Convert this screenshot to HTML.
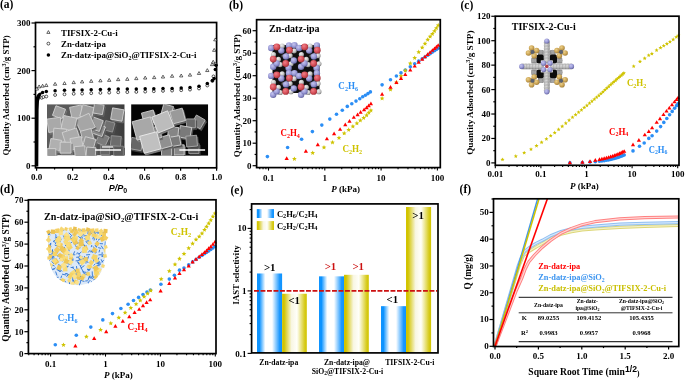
<!DOCTYPE html><html><head><meta charset="utf-8"><style>html,body{margin:0;padding:0;background:#fff;overflow:hidden}svg{display:block;filter:blur(0.4px)}</style></head><body>
<svg width="685" height="380" viewBox="0 0 685 380" style="font-family:'Liberation Serif',serif;font-weight:bold">
<defs>
<linearGradient id="gb" x1="0" x2="1" y1="0" y2="0">
<stop offset="0" stop-color="#0d93ff"/><stop offset="0.1" stop-color="#0d93ff"/><stop offset="0.33" stop-color="#ffffff"/><stop offset="0.6" stop-color="#ffffff"/><stop offset="0.9" stop-color="#1c98ff"/><stop offset="1" stop-color="#0d93ff"/>
</linearGradient>
<linearGradient id="gy" x1="0" x2="1" y1="0" y2="0">
<stop offset="0" stop-color="#d2c400"/><stop offset="0.08" stop-color="#d2c400"/><stop offset="0.38" stop-color="#f8f6e2"/><stop offset="0.6" stop-color="#fffffa"/><stop offset="0.92" stop-color="#d6ca18"/><stop offset="1" stop-color="#d2c400"/>
</linearGradient>
</defs>
<text x="0.00" y="8.10" font-size="11.5" text-anchor="start" fill="#000"  style="">(a)</text>
<text x="229.00" y="8.70" font-size="11.5" text-anchor="start" fill="#000"  style="">(b)</text>
<text x="460.50" y="8.70" font-size="11.5" text-anchor="start" fill="#000"  style="">(c)</text>
<text x="0.00" y="193.19" font-size="11.5" text-anchor="start" fill="#000"  style="">(d)</text>
<text x="230.50" y="193.69" font-size="11.5" text-anchor="start" fill="#000"  style="">(e)</text>
<text x="459.60" y="193.49" font-size="11.5" text-anchor="start" fill="#000"  style="">(f)</text>
<line x1="31.50" y1="165.80" x2="35.50" y2="165.80" stroke="#000" stroke-width="1.2" />
<text x="30.40" y="168.77" font-size="9" text-anchor="end" fill="#000"  style="">0</text>
<line x1="33.50" y1="142.00" x2="35.50" y2="142.00" stroke="#000" stroke-width="1.2" />
<line x1="31.50" y1="118.20" x2="35.50" y2="118.20" stroke="#000" stroke-width="1.2" />
<text x="30.40" y="121.17" font-size="9" text-anchor="end" fill="#000"  style="">100</text>
<line x1="33.50" y1="94.40" x2="35.50" y2="94.40" stroke="#000" stroke-width="1.2" />
<line x1="31.50" y1="70.60" x2="35.50" y2="70.60" stroke="#000" stroke-width="1.2" />
<text x="30.40" y="73.57" font-size="9" text-anchor="end" fill="#000"  style="">200</text>
<line x1="33.50" y1="46.80" x2="35.50" y2="46.80" stroke="#000" stroke-width="1.2" />
<line x1="31.50" y1="23.00" x2="35.50" y2="23.00" stroke="#000" stroke-width="1.2" />
<text x="30.40" y="25.97" font-size="9" text-anchor="end" fill="#000"  style="">300</text>
<line x1="36.60" y1="167.80" x2="36.60" y2="170.80" stroke="#000" stroke-width="1.2" />
<text x="36.60" y="180.27" font-size="9" text-anchor="middle" fill="#000"  style="">0.0</text>
<line x1="54.60" y1="167.80" x2="54.60" y2="169.40" stroke="#000" stroke-width="1.2" />
<line x1="72.60" y1="167.80" x2="72.60" y2="170.80" stroke="#000" stroke-width="1.2" />
<text x="72.60" y="180.27" font-size="9" text-anchor="middle" fill="#000"  style="">0.2</text>
<line x1="90.60" y1="167.80" x2="90.60" y2="169.40" stroke="#000" stroke-width="1.2" />
<line x1="108.60" y1="167.80" x2="108.60" y2="170.80" stroke="#000" stroke-width="1.2" />
<text x="108.60" y="180.27" font-size="9" text-anchor="middle" fill="#000"  style="">0.4</text>
<line x1="126.60" y1="167.80" x2="126.60" y2="169.40" stroke="#000" stroke-width="1.2" />
<line x1="144.60" y1="167.80" x2="144.60" y2="170.80" stroke="#000" stroke-width="1.2" />
<text x="144.60" y="180.27" font-size="9" text-anchor="middle" fill="#000"  style="">0.6</text>
<line x1="162.60" y1="167.80" x2="162.60" y2="169.40" stroke="#000" stroke-width="1.2" />
<line x1="180.60" y1="167.80" x2="180.60" y2="170.80" stroke="#000" stroke-width="1.2" />
<text x="180.60" y="180.27" font-size="9" text-anchor="middle" fill="#000"  style="">0.8</text>
<line x1="198.60" y1="167.80" x2="198.60" y2="169.40" stroke="#000" stroke-width="1.2" />
<line x1="216.60" y1="167.80" x2="216.60" y2="170.80" stroke="#000" stroke-width="1.2" />
<text x="216.60" y="180.27" font-size="9" text-anchor="middle" fill="#000"  style="">1.0</text>
<text transform="translate(8.70,95.45) rotate(-90)" x="0" y="0" font-size="8.8" text-anchor="middle" fill="#000" textLength="120.2" lengthAdjust="spacingAndGlyphs">Quantity Adsorbed (cm<tspan font-size="6" dy="-3">3</tspan><tspan dy="3">/g STP)</tspan></text>
<text x="108.8" y="191" font-size="9" style="font-family:'Liberation Sans',sans-serif;font-style:italic;font-weight:bold">P/P<tspan font-size="7" dy="2.2" font-style="normal">0</tspan></text>
<rect x="35.50" y="22.50" width="181.10" height="145.30" fill="none" stroke="#000" stroke-width="1.7"/>
<clipPath id="sem1"><rect x="47" y="104.2" width="77.7" height="51.2"/></clipPath>
<clipPath id="sem2"><rect x="131.1" y="104.2" width="77.1" height="51.6"/></clipPath>
<linearGradient id="semg1" x1="0" x2="1" y1="0" y2="0"><stop offset="0" stop-color="#5c5c5c"/><stop offset="0.6" stop-color="#555"/><stop offset="1" stop-color="#3c3c3c"/></linearGradient>
<g clip-path="url(#sem1)">
<rect x="47" y="104.2" width="77.7" height="51.2" fill="url(#semg1)"/>
<polygon points="113.92,109.66 125.29,111.67 123.28,123.04 111.91,121.03" fill="#606060" stroke="#7c7c7c" stroke-width="0.6"/>
<polygon points="112.62,107.86 123.99,109.87 121.98,121.24 110.61,119.23" fill="#9c9c9c" stroke="#d2d2d2" stroke-width="0.9"/>
<polygon points="107.10,122.35 116.25,124.80 113.80,133.95 104.65,131.50" fill="#454545" stroke="#595959" stroke-width="0.6"/>
<polygon points="105.80,120.55 114.95,123.00 112.50,132.15 103.35,129.70" fill="#707070" stroke="#999" stroke-width="0.9"/>
<polygon points="112.57,137.44 122.61,138.32 121.73,148.36 111.69,147.48" fill="#424242" stroke="#565656" stroke-width="0.6"/>
<polygon points="111.27,135.64 121.31,136.52 120.43,146.56 110.39,145.68" fill="#6c6c6c" stroke="#999" stroke-width="0.9"/>
<polygon points="101.33,134.61 110.59,138.93 106.27,148.19 97.01,143.87" fill="#4c4c4c" stroke="#636363" stroke-width="0.6"/>
<polygon points="100.03,132.81 109.29,137.13 104.97,146.39 95.71,142.07" fill="#7c7c7c" stroke="#aaa" stroke-width="0.9"/>
<polygon points="101.70,147.20 110.90,147.20 110.90,156.40 101.70,156.40" fill="#3f3f3f" stroke="#515151" stroke-width="0.6"/>
<polygon points="100.40,145.40 109.60,145.40 109.60,154.60 100.40,154.60" fill="#666" stroke="#888" stroke-width="0.9"/>
<polygon points="114.97,147.97 124.63,147.97 124.63,157.63 114.97,157.63" fill="#373737" stroke="#484848" stroke-width="0.6"/>
<polygon points="113.67,146.17 123.33,146.17 123.33,155.83 113.67,155.83" fill="#5a5a5a" stroke="#888" stroke-width="0.9"/>
<polygon points="97.08,125.23 106.72,128.73 103.22,138.37 93.58,134.87" fill="#555555" stroke="#6e6e6e" stroke-width="0.6"/>
<polygon points="95.78,123.43 105.42,126.93 101.92,136.57 92.28,133.07" fill="#8a8a8a" stroke="#d2d2d2" stroke-width="0.9"/>
<polygon points="93.70,118.50 104.55,122.45 100.60,133.30 89.75,129.35" fill="#5f5f5f" stroke="#7b7b7b" stroke-width="0.6"/>
<polygon points="92.40,116.70 103.25,120.65 99.30,131.50 88.45,127.55" fill="#9a9a9a" stroke="#d2d2d2" stroke-width="0.9"/>
<polygon points="57.25,107.56 66.84,111.05 63.35,120.64 53.76,117.15" fill="#646464" stroke="#818181" stroke-width="0.6"/>
<polygon points="55.95,105.76 65.54,109.25 62.05,118.84 52.46,115.35" fill="#a2a2a2" stroke="#d2d2d2" stroke-width="0.9"/>
<polygon points="70.91,109.18 82.52,106.71 84.99,118.32 73.38,120.79" fill="#686868" stroke="#868686" stroke-width="0.6"/>
<polygon points="69.61,107.38 81.22,104.91 83.69,116.52 72.08,118.99" fill="#a8a8a8" stroke="#d2d2d2" stroke-width="0.9"/>
<polygon points="84.15,106.48 95.62,109.55 92.55,121.02 81.08,117.95" fill="#636363" stroke="#808080" stroke-width="0.6"/>
<polygon points="82.85,104.68 94.32,107.75 91.25,119.22 79.78,116.15" fill="#a0a0a0" stroke="#d2d2d2" stroke-width="0.9"/>
<polygon points="95.88,105.20 105.40,106.88 103.72,116.40 94.20,114.72" fill="#585858" stroke="#717171" stroke-width="0.6"/>
<polygon points="94.58,103.40 104.10,105.08 102.42,114.60 92.90,112.92" fill="#8e8e8e" stroke="#d2d2d2" stroke-width="0.9"/>
<polygon points="76.35,121.51 90.19,115.05 96.65,128.89 82.81,135.35" fill="#666666" stroke="#848484" stroke-width="0.6"/>
<polygon points="75.05,119.71 88.89,113.25 95.35,127.09 81.51,133.55" fill="#a6a6a6" stroke="#d2d2d2" stroke-width="0.9"/>
<polygon points="48.19,120.91 61.54,119.04 63.41,132.39 50.06,134.26" fill="#686868" stroke="#878787" stroke-width="0.6"/>
<polygon points="46.89,119.11 60.24,117.24 62.11,130.59 48.76,132.46" fill="#a9a9a9" stroke="#d2d2d2" stroke-width="0.9"/>
<polygon points="65.15,117.29 78.11,120.05 75.35,133.01 62.39,130.25" fill="#6d6d6d" stroke="#8c8c8c" stroke-width="0.6"/>
<polygon points="63.85,115.49 76.81,118.25 74.05,131.21 61.09,128.45" fill="#b0b0b0" stroke="#d2d2d2" stroke-width="0.9"/>
<polygon points="55.20,129.97 68.03,131.10 66.90,143.93 54.07,142.80" fill="#656565" stroke="#838383" stroke-width="0.6"/>
<polygon points="53.90,128.17 66.73,129.30 65.60,142.13 52.77,141.00" fill="#a4a4a4" stroke="#d2d2d2" stroke-width="0.9"/>
<polygon points="81.70,133.11 92.19,130.30 95.00,140.79 84.51,143.60" fill="#606060" stroke="#7c7c7c" stroke-width="0.6"/>
<polygon points="80.40,131.31 90.89,128.50 93.70,138.99 83.21,141.80" fill="#9c9c9c" stroke="#d2d2d2" stroke-width="0.9"/>
<polygon points="63.43,134.40 77.65,129.78 82.27,144.00 68.05,148.62" fill="#6a6a6a" stroke="#888888" stroke-width="0.6"/>
<polygon points="62.13,132.60 76.35,127.98 80.97,142.20 66.75,146.82" fill="#ababab" stroke="#d2d2d2" stroke-width="0.9"/>
<polygon points="52.20,140.31 62.89,142.20 61.00,152.89 50.31,151.00" fill="#6d6d6d" stroke="#8c8c8c" stroke-width="0.6"/>
<polygon points="50.90,138.51 61.59,140.40 59.70,151.09 49.01,149.20" fill="#b0b0b0" stroke="#d2d2d2" stroke-width="0.9"/>
<polygon points="71.26,140.42 82.63,138.41 84.64,149.78 73.27,151.79" fill="#6f6f6f" stroke="#909090" stroke-width="0.6"/>
<polygon points="69.96,138.62 81.33,136.61 83.34,147.98 71.97,149.99" fill="#b4b4b4" stroke="#d2d2d2" stroke-width="0.9"/>
<polygon points="86.66,138.45 97.15,141.26 94.34,151.75 83.85,148.94" fill="#5e5e5e" stroke="#797979" stroke-width="0.6"/>
<polygon points="85.36,136.65 95.85,139.46 93.04,149.95 82.55,147.14" fill="#989898" stroke="#d2d2d2" stroke-width="0.9"/>
<polygon points="61.47,144.07 72.33,144.07 72.33,154.93 61.47,154.93" fill="#686868" stroke="#868686" stroke-width="0.6"/>
<polygon points="60.17,142.27 71.03,142.27 71.03,153.13 60.17,153.13" fill="#a8a8a8" stroke="#d2d2d2" stroke-width="0.9"/>
<polygon points="48.43,150.43 57.17,150.43 57.17,159.17 48.43,159.17" fill="#5f5f5f" stroke="#7b7b7b" stroke-width="0.6"/>
<polygon points="47.13,148.63 55.87,148.63 55.87,157.37 47.13,157.37" fill="#9a9a9a" stroke="#d2d2d2" stroke-width="0.9"/>
<polygon points="75.57,148.49 86.11,147.57 87.03,158.11 76.49,159.03" fill="#636363" stroke="#808080" stroke-width="0.6"/>
<polygon points="74.27,146.69 84.81,145.77 85.73,156.31 75.19,157.23" fill="#a0a0a0" stroke="#d2d2d2" stroke-width="0.9"/>
<polygon points="88.12,148.82 97.28,149.62 96.48,158.78 87.32,157.98" fill="#555555" stroke="#6e6e6e" stroke-width="0.6"/>
<polygon points="86.82,147.02 95.98,147.82 95.18,156.98 86.02,156.18" fill="#8a8a8a" stroke="#d2d2d2" stroke-width="0.9"/>
<line x1="95.1" y1="150" x2="121" y2="150" stroke="#fff" stroke-width="1.3"/>
<rect x="102" y="146.2" width="11" height="1.5" fill="#e0e0e0"/>
</g>
<g clip-path="url(#sem2)">
<rect x="131.1" y="104.2" width="77.1" height="51.6" fill="#050505"/>
<polygon points="133.05,139.22 144.33,141.20 142.35,152.48 131.07,150.50" fill="#3f3f3f" stroke="#515151" stroke-width="0.6"/>
<polygon points="131.75,137.42 143.03,139.40 141.05,150.68 129.77,148.70" fill="#666" stroke="#aaa" stroke-width="0.9"/>
<polygon points="190.12,145.17 200.28,145.17 200.28,155.33 190.12,155.33" fill="#343434" stroke="#444444" stroke-width="0.6"/>
<polygon points="188.82,143.37 198.98,143.37 198.98,153.53 188.82,153.53" fill="#555" stroke="#999" stroke-width="0.9"/>
<polygon points="197.75,116.79 206.51,121.85 201.45,130.61 192.69,125.55" fill="#4f4f4f" stroke="#666666" stroke-width="0.6"/>
<polygon points="196.45,114.99 205.21,120.05 200.15,128.81 191.39,123.75" fill="#808080" stroke="#bbb" stroke-width="0.9"/>
<polygon points="187.83,120.73 196.67,120.73 196.67,129.57 187.83,129.57" fill="#414141" stroke="#545454" stroke-width="0.6"/>
<polygon points="186.53,118.93 195.37,118.93 195.37,127.77 186.53,127.77" fill="#6a6a6a" stroke="#aaa" stroke-width="0.9"/>
<polygon points="165.01,105.72 174.83,108.36 172.19,118.18 162.37,115.54" fill="#545454" stroke="#6c6c6c" stroke-width="0.6"/>
<polygon points="163.71,103.92 173.53,106.56 170.89,116.38 161.07,113.74" fill="#888" stroke="#d2d2d2" stroke-width="0.9"/>
<polygon points="142.74,114.94 154.51,111.79 157.66,123.56 145.89,126.71" fill="#5e5e5e" stroke="#7a7a7a" stroke-width="0.6"/>
<polygon points="141.44,113.14 153.21,109.99 156.36,121.76 144.59,124.91" fill="#999" stroke="#d2d2d2" stroke-width="0.9"/>
<polygon points="171.09,113.26 183.49,109.94 186.81,122.34 174.41,125.66" fill="#5f5f5f" stroke="#7b7b7b" stroke-width="0.6"/>
<polygon points="169.79,111.46 182.19,108.14 185.51,120.54 173.11,123.86" fill="#9a9a9a" stroke="#d2d2d2" stroke-width="0.9"/>
<polygon points="181.65,127.34 193.06,129.35 191.05,140.76 179.64,138.75" fill="#4b4b4b" stroke="#616161" stroke-width="0.6"/>
<polygon points="180.35,125.54 191.76,127.55 189.75,138.96 178.34,136.95" fill="#7a7a7a" stroke="#d2d2d2" stroke-width="0.9"/>
<polygon points="187.09,137.99 197.86,137.04 198.81,147.81 188.04,148.76" fill="#444444" stroke="#585858" stroke-width="0.6"/>
<polygon points="185.79,136.19 196.56,135.24 197.51,146.01 186.74,146.96" fill="#6e6e6e" stroke="#aaa" stroke-width="0.9"/>
<polygon points="169.86,128.47 180.03,129.36 179.14,139.53 168.97,138.64" fill="#525252" stroke="#6a6a6a" stroke-width="0.6"/>
<polygon points="168.56,126.67 178.73,127.56 177.84,137.73 167.67,136.84" fill="#858585" stroke="#d2d2d2" stroke-width="0.9"/>
<polygon points="175.32,146.67 185.48,146.67 185.48,156.83 175.32,156.83" fill="#545454" stroke="#6c6c6c" stroke-width="0.6"/>
<polygon points="174.02,144.87 184.18,144.87 184.18,155.03 174.02,155.03" fill="#888" stroke="#d2d2d2" stroke-width="0.9"/>
<polygon points="162.82,147.37 172.98,147.37 172.98,157.53 162.82,157.53" fill="#4c4c4c" stroke="#636363" stroke-width="0.6"/>
<polygon points="161.52,145.57 171.68,145.57 171.68,155.73 161.52,155.73" fill="#7c7c7c" stroke="#d2d2d2" stroke-width="0.9"/>
<polygon points="171.29,139.08 180.57,137.44 182.21,146.72 172.93,148.36" fill="#4b4b4b" stroke="#616161" stroke-width="0.6"/>
<polygon points="169.99,137.28 179.27,135.64 180.91,144.92 171.63,146.56" fill="#7a7a7a" stroke="#d2d2d2" stroke-width="0.9"/>
<polygon points="159.41,139.58 170.52,136.61 173.49,147.72 162.38,150.69" fill="#595959" stroke="#737373" stroke-width="0.6"/>
<polygon points="158.11,137.78 169.22,134.81 172.19,145.92 161.08,148.89" fill="#909090" stroke="#d2d2d2" stroke-width="0.9"/>
<polygon points="149.41,130.07 160.78,128.06 162.79,139.43 151.42,141.44" fill="#555555" stroke="#6e6e6e" stroke-width="0.6"/>
<polygon points="148.11,128.27 159.48,126.26 161.49,137.63 150.12,139.64" fill="#8a8a8a" stroke="#d2d2d2" stroke-width="0.9"/>
<polygon points="133.42,123.58 151.77,118.67 156.68,137.02 138.33,141.93" fill="#686868" stroke="#868686" stroke-width="0.6"/>
<polygon points="132.12,121.78 150.47,116.87 155.38,135.22 137.03,140.13" fill="#a8a8a8" stroke="#d2d2d2" stroke-width="0.9"/>
<polygon points="153.12,119.00 168.90,112.62 175.28,128.40 159.50,134.78" fill="#747474" stroke="#969696" stroke-width="0.6"/>
<polygon points="151.82,117.20 167.60,110.82 173.98,126.60 158.20,132.98" fill="#bcbcbc" stroke="#e8e8e8" stroke-width="0.9"/>
<polygon points="140.91,138.12 157.93,133.56 162.49,150.58 145.47,155.14" fill="#777777" stroke="#999999" stroke-width="0.6"/>
<polygon points="139.61,136.32 156.63,131.76 161.19,148.78 144.17,153.34" fill="#c0c0c0" stroke="#ececec" stroke-width="0.9"/>
<line x1="179.3" y1="150" x2="205.1" y2="150" stroke="#fff" stroke-width="1.3"/>
</g>
<path d="M35.5,166.5 L35.5,100 C36,96 37,93.5 40,92.5 L42,93 L40.5,96.5 L39,101 L38.6,110 L38.3,166.5 Z" fill="#000"/>
<circle cx="41.7" cy="97.8" r="1.45" fill="#fff" stroke="#000" stroke-width="0.65"/>
<circle cx="43.4" cy="97" r="1.45" fill="#fff" stroke="#000" stroke-width="0.65"/>
<circle cx="46.3" cy="96.5" r="1.45" fill="#fff" stroke="#000" stroke-width="0.65"/>
<circle cx="55.1" cy="95" r="1.45" fill="#fff" stroke="#000" stroke-width="0.65"/>
<circle cx="64.5" cy="94.3" r="1.45" fill="#fff" stroke="#000" stroke-width="0.65"/>
<circle cx="73.7" cy="93.8" r="1.45" fill="#fff" stroke="#000" stroke-width="0.65"/>
<circle cx="82.1" cy="93.6" r="1.45" fill="#fff" stroke="#000" stroke-width="0.65"/>
<circle cx="91.2" cy="93.2" r="1.45" fill="#fff" stroke="#000" stroke-width="0.65"/>
<circle cx="100.4" cy="92.9" r="1.45" fill="#fff" stroke="#000" stroke-width="0.65"/>
<circle cx="109.2" cy="92.6" r="1.45" fill="#fff" stroke="#000" stroke-width="0.65"/>
<circle cx="118.2" cy="92.3" r="1.45" fill="#fff" stroke="#000" stroke-width="0.65"/>
<circle cx="127.3" cy="92.1" r="1.45" fill="#fff" stroke="#000" stroke-width="0.65"/>
<circle cx="136.3" cy="91.9" r="1.45" fill="#fff" stroke="#000" stroke-width="0.65"/>
<circle cx="145.2" cy="91.6" r="1.45" fill="#fff" stroke="#000" stroke-width="0.65"/>
<circle cx="153.8" cy="91.2" r="1.45" fill="#fff" stroke="#000" stroke-width="0.65"/>
<circle cx="163" cy="90.9" r="1.45" fill="#fff" stroke="#000" stroke-width="0.65"/>
<circle cx="172.1" cy="90.6" r="1.45" fill="#fff" stroke="#000" stroke-width="0.65"/>
<circle cx="181.2" cy="90.2" r="1.45" fill="#fff" stroke="#000" stroke-width="0.65"/>
<circle cx="190" cy="89.6" r="1.45" fill="#fff" stroke="#000" stroke-width="0.65"/>
<circle cx="199" cy="88.5" r="1.45" fill="#fff" stroke="#000" stroke-width="0.65"/>
<circle cx="207.3" cy="85.5" r="1.45" fill="#fff" stroke="#000" stroke-width="0.65"/>
<circle cx="212.4" cy="81" r="1.45" fill="#fff" stroke="#000" stroke-width="0.65"/>
<circle cx="213.5" cy="76.4" r="1.45" fill="#fff" stroke="#000" stroke-width="0.65"/>
<circle cx="215.5" cy="64.2" r="1.45" fill="#fff" stroke="#000" stroke-width="0.65"/>
<circle cx="42.6" cy="92.5" r="1.75" fill="#000"/>
<circle cx="46.3" cy="91.6" r="1.75" fill="#000"/>
<circle cx="55.1" cy="90.8" r="1.75" fill="#000"/>
<circle cx="64.5" cy="90.3" r="1.75" fill="#000"/>
<circle cx="73.7" cy="90.1" r="1.75" fill="#000"/>
<circle cx="82.1" cy="90" r="1.75" fill="#000"/>
<circle cx="91.2" cy="89.7" r="1.75" fill="#000"/>
<circle cx="100.4" cy="89.5" r="1.75" fill="#000"/>
<circle cx="109.2" cy="89.3" r="1.75" fill="#000"/>
<circle cx="118.2" cy="89.1" r="1.75" fill="#000"/>
<circle cx="127.3" cy="89" r="1.75" fill="#000"/>
<circle cx="136.3" cy="88.9" r="1.75" fill="#000"/>
<circle cx="145.2" cy="88.8" r="1.75" fill="#000"/>
<circle cx="153.8" cy="88.8" r="1.75" fill="#000"/>
<circle cx="163" cy="88.6" r="1.75" fill="#000"/>
<circle cx="172.1" cy="88.4" r="1.75" fill="#000"/>
<circle cx="181.2" cy="88" r="1.75" fill="#000"/>
<circle cx="190" cy="87.4" r="1.75" fill="#000"/>
<circle cx="199" cy="86.3" r="1.75" fill="#000"/>
<circle cx="207.3" cy="83.6" r="1.75" fill="#000"/>
<circle cx="212.4" cy="80.6" r="1.75" fill="#000"/>
<circle cx="214.2" cy="78.5" r="1.75" fill="#000"/>
<circle cx="215.3" cy="69.5" r="1.75" fill="#000"/>
<circle cx="216" cy="65.3" r="1.75" fill="#000"/>
<path d="M35.25,90.05L38.55,90.05L36.90,87.15Z" fill="#fff" stroke="#000" stroke-width="0.6"/>
<path d="M37.45,87.85L40.75,87.85L39.10,84.95Z" fill="#fff" stroke="#000" stroke-width="0.6"/>
<path d="M40.95,87.15L44.25,87.15L42.60,84.25Z" fill="#fff" stroke="#000" stroke-width="0.6"/>
<path d="M44.65,86.55L47.95,86.55L46.30,83.65Z" fill="#fff" stroke="#000" stroke-width="0.6"/>
<path d="M53.45,85.25L56.75,85.25L55.10,82.35Z" fill="#fff" stroke="#000" stroke-width="0.6"/>
<path d="M62.85,84.55L66.15,84.55L64.50,81.65Z" fill="#fff" stroke="#000" stroke-width="0.6"/>
<path d="M72.05,83.65L75.35,83.65L73.70,80.75Z" fill="#fff" stroke="#000" stroke-width="0.6"/>
<path d="M80.45,82.95L83.75,82.95L82.10,80.05Z" fill="#fff" stroke="#000" stroke-width="0.6"/>
<path d="M89.55,82.35L92.85,82.35L91.20,79.45Z" fill="#fff" stroke="#000" stroke-width="0.6"/>
<path d="M98.75,81.85L102.05,81.85L100.40,78.95Z" fill="#fff" stroke="#000" stroke-width="0.6"/>
<path d="M107.55,81.35L110.85,81.35L109.20,78.45Z" fill="#fff" stroke="#000" stroke-width="0.6"/>
<path d="M116.55,80.65L119.85,80.65L118.20,77.75Z" fill="#fff" stroke="#000" stroke-width="0.6"/>
<path d="M125.65,80.35L128.95,80.35L127.30,77.45Z" fill="#fff" stroke="#000" stroke-width="0.6"/>
<path d="M134.65,79.65L137.95,79.65L136.30,76.75Z" fill="#fff" stroke="#000" stroke-width="0.6"/>
<path d="M143.55,79.05L146.85,79.05L145.20,76.15Z" fill="#fff" stroke="#000" stroke-width="0.6"/>
<path d="M152.55,78.65L155.85,78.65L154.20,75.75Z" fill="#fff" stroke="#000" stroke-width="0.6"/>
<path d="M161.35,78.05L164.65,78.05L163.00,75.15Z" fill="#fff" stroke="#000" stroke-width="0.6"/>
<path d="M170.45,77.25L173.75,77.25L172.10,74.35Z" fill="#fff" stroke="#000" stroke-width="0.6"/>
<path d="M179.55,76.95L182.85,76.95L181.20,74.05Z" fill="#fff" stroke="#000" stroke-width="0.6"/>
<path d="M188.35,76.15L191.65,76.15L190.00,73.25Z" fill="#fff" stroke="#000" stroke-width="0.6"/>
<path d="M197.35,74.45L200.65,74.45L199.00,71.55Z" fill="#fff" stroke="#000" stroke-width="0.6"/>
<path d="M205.65,71.55L208.95,71.55L207.30,68.65Z" fill="#fff" stroke="#000" stroke-width="0.6"/>
<path d="M210.45,65.65L213.75,65.65L212.10,62.75Z" fill="#fff" stroke="#000" stroke-width="0.6"/>
<path d="M211.55,63.15L214.85,63.15L213.20,60.25Z" fill="#fff" stroke="#000" stroke-width="0.6"/>
<path d="M212.55,51.35L215.85,51.35L214.20,48.45Z" fill="#fff" stroke="#000" stroke-width="0.6"/>
<path d="M213.65,40.85L216.95,40.85L215.30,37.95Z" fill="#fff" stroke="#000" stroke-width="0.6"/>
<path d="M46.8,33.4L50,33.4L48.4,30.6Z" fill="#fff" stroke="#000" stroke-width="0.6"/>
<circle cx="48.4" cy="43.6" r="1.45" fill="#fff" stroke="#000" stroke-width="0.65"/>
<circle cx="48.4" cy="55" r="1.75" fill="#000"/>
<text x="61.00" y="35.74" font-size="8.9" text-anchor="start" fill="#000"  style="">TIFSIX-2-Cu-i</text>
<text x="61.00" y="47.04" font-size="8.9" text-anchor="start" fill="#000"  style="">Zn-datz-ipa</text>
<text x="61.00" y="58.24" font-size="8.9" text-anchor="start" fill="#000"  style="">Zn-datz-ipa@SiO<tspan font-size="6" dy="2">2</tspan><tspan dy="-2">@TIFSIX-2-Cu-i</tspan></text>
<line x1="252.60" y1="165.70" x2="256.60" y2="165.70" stroke="#000" stroke-width="1.2" />
<text x="251.60" y="168.67" font-size="9" text-anchor="end" fill="#000"  style="">0</text>
<line x1="254.60" y1="154.45" x2="256.60" y2="154.45" stroke="#000" stroke-width="1.2" />
<line x1="252.60" y1="143.20" x2="256.60" y2="143.20" stroke="#000" stroke-width="1.2" />
<text x="251.60" y="146.17" font-size="9" text-anchor="end" fill="#000"  style="">10</text>
<line x1="254.60" y1="131.95" x2="256.60" y2="131.95" stroke="#000" stroke-width="1.2" />
<line x1="252.60" y1="120.70" x2="256.60" y2="120.70" stroke="#000" stroke-width="1.2" />
<text x="251.60" y="123.67" font-size="9" text-anchor="end" fill="#000"  style="">20</text>
<line x1="254.60" y1="109.45" x2="256.60" y2="109.45" stroke="#000" stroke-width="1.2" />
<line x1="252.60" y1="98.20" x2="256.60" y2="98.20" stroke="#000" stroke-width="1.2" />
<text x="251.60" y="101.17" font-size="9" text-anchor="end" fill="#000"  style="">30</text>
<line x1="254.60" y1="86.95" x2="256.60" y2="86.95" stroke="#000" stroke-width="1.2" />
<line x1="252.60" y1="75.70" x2="256.60" y2="75.70" stroke="#000" stroke-width="1.2" />
<text x="251.60" y="78.67" font-size="9" text-anchor="end" fill="#000"  style="">40</text>
<line x1="254.60" y1="64.45" x2="256.60" y2="64.45" stroke="#000" stroke-width="1.2" />
<line x1="252.60" y1="53.20" x2="256.60" y2="53.20" stroke="#000" stroke-width="1.2" />
<text x="251.60" y="56.17" font-size="9" text-anchor="end" fill="#000"  style="">50</text>
<line x1="254.60" y1="41.95" x2="256.60" y2="41.95" stroke="#000" stroke-width="1.2" />
<line x1="252.60" y1="30.70" x2="256.60" y2="30.70" stroke="#000" stroke-width="1.2" />
<text x="251.60" y="33.67" font-size="9" text-anchor="end" fill="#000"  style="">60</text>
<line x1="259.78" y1="167.60" x2="259.78" y2="169.20" stroke="#000" stroke-width="1.1" />
<line x1="263.04" y1="167.60" x2="263.04" y2="169.20" stroke="#000" stroke-width="1.1" />
<line x1="265.92" y1="167.60" x2="265.92" y2="169.20" stroke="#000" stroke-width="1.1" />
<line x1="268.50" y1="167.60" x2="268.50" y2="170.60" stroke="#000" stroke-width="1.1" />
<line x1="285.45" y1="167.60" x2="285.45" y2="169.20" stroke="#000" stroke-width="1.1" />
<line x1="295.36" y1="167.60" x2="295.36" y2="169.20" stroke="#000" stroke-width="1.1" />
<line x1="302.40" y1="167.60" x2="302.40" y2="169.20" stroke="#000" stroke-width="1.1" />
<line x1="307.85" y1="167.60" x2="307.85" y2="169.20" stroke="#000" stroke-width="1.1" />
<line x1="312.31" y1="167.60" x2="312.31" y2="169.20" stroke="#000" stroke-width="1.1" />
<line x1="316.08" y1="167.60" x2="316.08" y2="169.20" stroke="#000" stroke-width="1.1" />
<line x1="319.34" y1="167.60" x2="319.34" y2="169.20" stroke="#000" stroke-width="1.1" />
<line x1="322.22" y1="167.60" x2="322.22" y2="169.20" stroke="#000" stroke-width="1.1" />
<line x1="324.80" y1="167.60" x2="324.80" y2="170.60" stroke="#000" stroke-width="1.1" />
<line x1="341.75" y1="167.60" x2="341.75" y2="169.20" stroke="#000" stroke-width="1.1" />
<line x1="351.66" y1="167.60" x2="351.66" y2="169.20" stroke="#000" stroke-width="1.1" />
<line x1="358.70" y1="167.60" x2="358.70" y2="169.20" stroke="#000" stroke-width="1.1" />
<line x1="364.15" y1="167.60" x2="364.15" y2="169.20" stroke="#000" stroke-width="1.1" />
<line x1="368.61" y1="167.60" x2="368.61" y2="169.20" stroke="#000" stroke-width="1.1" />
<line x1="372.38" y1="167.60" x2="372.38" y2="169.20" stroke="#000" stroke-width="1.1" />
<line x1="375.64" y1="167.60" x2="375.64" y2="169.20" stroke="#000" stroke-width="1.1" />
<line x1="378.52" y1="167.60" x2="378.52" y2="169.20" stroke="#000" stroke-width="1.1" />
<line x1="381.10" y1="167.60" x2="381.10" y2="170.60" stroke="#000" stroke-width="1.1" />
<line x1="398.05" y1="167.60" x2="398.05" y2="169.20" stroke="#000" stroke-width="1.1" />
<line x1="407.96" y1="167.60" x2="407.96" y2="169.20" stroke="#000" stroke-width="1.1" />
<line x1="415.00" y1="167.60" x2="415.00" y2="169.20" stroke="#000" stroke-width="1.1" />
<line x1="420.45" y1="167.60" x2="420.45" y2="169.20" stroke="#000" stroke-width="1.1" />
<line x1="424.91" y1="167.60" x2="424.91" y2="169.20" stroke="#000" stroke-width="1.1" />
<line x1="428.68" y1="167.60" x2="428.68" y2="169.20" stroke="#000" stroke-width="1.1" />
<line x1="431.94" y1="167.60" x2="431.94" y2="169.20" stroke="#000" stroke-width="1.1" />
<line x1="434.82" y1="167.60" x2="434.82" y2="169.20" stroke="#000" stroke-width="1.1" />
<line x1="437.40" y1="167.60" x2="437.40" y2="170.60" stroke="#000" stroke-width="1.1" />
<text x="268.50" y="180.57" font-size="9" text-anchor="middle" fill="#000"  style="">0.1</text>
<text x="324.80" y="180.57" font-size="9" text-anchor="middle" fill="#000"  style="">1</text>
<text x="381.10" y="180.57" font-size="9" text-anchor="middle" fill="#000"  style="">10</text>
<text x="437.40" y="180.57" font-size="9" text-anchor="middle" fill="#000"  style="">100</text>
<text transform="translate(239.57,95.65) rotate(-90)" x="0" y="0" font-size="9" text-anchor="middle" fill="#000" textLength="123" lengthAdjust="spacingAndGlyphs">Quantity Adsorbed (cm<tspan font-size="6" dy="-3">3</tspan><tspan dy="3">/g STP)</tspan></text>
<text x="345.6" y="192" font-size="9" text-anchor="middle"><tspan font-style="italic">P</tspan> (kPa)</text>
<radialGradient id="sL" cx="0.38" cy="0.35" r="0.7"><stop offset="0" stop-color="#c4c4ee"/><stop offset="0.55" stop-color="#9a9ad6"/><stop offset="1" stop-color="#62629e"/></radialGradient>
<radialGradient id="sR" cx="0.38" cy="0.35" r="0.7"><stop offset="0" stop-color="#f08088"/><stop offset="0.6" stop-color="#d44c56"/><stop offset="1" stop-color="#a03038"/></radialGradient>
<radialGradient id="sW" cx="0.38" cy="0.35" r="0.7"><stop offset="0" stop-color="#f0f0f0"/><stop offset="0.6" stop-color="#c4c4c4"/><stop offset="1" stop-color="#7a7a7a"/></radialGradient>
<radialGradient id="sK" cx="0.38" cy="0.35" r="0.7"><stop offset="0" stop-color="#707070"/><stop offset="1" stop-color="#202020"/></radialGradient>
<rect x="272.5" y="45" width="47" height="48" fill="#101010"/>
<circle cx="283.0" cy="56.0" r="1.8" fill="url(#sK)"/>
<circle cx="278.0" cy="61.0" r="1.8" fill="url(#sK)"/>
<circle cx="287.0" cy="54.0" r="1.8" fill="url(#sK)"/>
<circle cx="283.0" cy="83.9" r="1.8" fill="url(#sK)"/>
<circle cx="278.0" cy="88.9" r="1.8" fill="url(#sK)"/>
<circle cx="287.0" cy="81.9" r="1.8" fill="url(#sK)"/>
<circle cx="310.9" cy="56.0" r="1.8" fill="url(#sK)"/>
<circle cx="305.9" cy="61.0" r="1.8" fill="url(#sK)"/>
<circle cx="314.9" cy="54.0" r="1.8" fill="url(#sK)"/>
<circle cx="310.9" cy="83.9" r="1.8" fill="url(#sK)"/>
<circle cx="305.9" cy="88.9" r="1.8" fill="url(#sK)"/>
<circle cx="314.9" cy="81.9" r="1.8" fill="url(#sK)"/>
<circle cx="282.2" cy="46.0" r="2.6" fill="url(#sW)"/>
<circle cx="290.1" cy="55.7" r="2.6" fill="url(#sW)"/>
<circle cx="273.5" cy="54.5" r="2.6" fill="url(#sW)"/>
<circle cx="280.2" cy="64.6" r="2.6" fill="url(#sW)"/>
<circle cx="294.2" cy="50.8" r="2.6" fill="url(#sW)"/>
<circle cx="278.4" cy="59.4" r="2.6" fill="url(#sW)"/>
<circle cx="291.0" cy="63.8" r="2.6" fill="url(#sW)"/>
<circle cx="282.2" cy="73.9" r="2.6" fill="url(#sW)"/>
<circle cx="290.1" cy="83.6" r="2.6" fill="url(#sW)"/>
<circle cx="273.5" cy="82.4" r="2.6" fill="url(#sW)"/>
<circle cx="280.2" cy="92.5" r="2.6" fill="url(#sW)"/>
<circle cx="294.2" cy="78.7" r="2.6" fill="url(#sW)"/>
<circle cx="278.4" cy="87.3" r="2.6" fill="url(#sW)"/>
<circle cx="291.0" cy="91.7" r="2.6" fill="url(#sW)"/>
<circle cx="310.1" cy="46.0" r="2.6" fill="url(#sW)"/>
<circle cx="318.0" cy="55.7" r="2.6" fill="url(#sW)"/>
<circle cx="301.4" cy="54.5" r="2.6" fill="url(#sW)"/>
<circle cx="308.1" cy="64.6" r="2.6" fill="url(#sW)"/>
<circle cx="306.3" cy="59.4" r="2.6" fill="url(#sW)"/>
<circle cx="318.9" cy="63.8" r="2.6" fill="url(#sW)"/>
<circle cx="310.1" cy="73.9" r="2.6" fill="url(#sW)"/>
<circle cx="318.0" cy="83.6" r="2.6" fill="url(#sW)"/>
<circle cx="301.4" cy="82.4" r="2.6" fill="url(#sW)"/>
<circle cx="308.1" cy="92.5" r="2.6" fill="url(#sW)"/>
<circle cx="306.3" cy="87.3" r="2.6" fill="url(#sW)"/>
<circle cx="318.9" cy="91.7" r="2.6" fill="url(#sW)"/>
<circle cx="271.2" cy="48.0" r="3.2" fill="url(#sL)"/>
<circle cx="289.0" cy="45.4" r="3.2" fill="url(#sL)"/>
<circle cx="294.5" cy="45.2" r="3.2" fill="url(#sL)"/>
<circle cx="286.0" cy="56.5" r="3.2" fill="url(#sL)"/>
<circle cx="293.8" cy="60.5" r="3.2" fill="url(#sL)"/>
<circle cx="273.2" cy="66.8" r="3.2" fill="url(#sL)"/>
<circle cx="288.6" cy="68.0" r="3.2" fill="url(#sL)"/>
<circle cx="281.3" cy="50.6" r="3.2" fill="url(#sL)"/>
<circle cx="276.6" cy="63.5" r="3.2" fill="url(#sL)"/>
<circle cx="271.2" cy="75.9" r="3.2" fill="url(#sL)"/>
<circle cx="289.0" cy="73.3" r="3.2" fill="url(#sL)"/>
<circle cx="294.5" cy="73.1" r="3.2" fill="url(#sL)"/>
<circle cx="286.0" cy="84.4" r="3.2" fill="url(#sL)"/>
<circle cx="293.8" cy="88.4" r="3.2" fill="url(#sL)"/>
<circle cx="273.2" cy="94.7" r="3.2" fill="url(#sL)"/>
<circle cx="281.3" cy="78.5" r="3.2" fill="url(#sL)"/>
<circle cx="276.6" cy="91.4" r="3.2" fill="url(#sL)"/>
<circle cx="299.1" cy="48.0" r="3.2" fill="url(#sL)"/>
<circle cx="316.9" cy="45.4" r="3.2" fill="url(#sL)"/>
<circle cx="313.9" cy="56.5" r="3.2" fill="url(#sL)"/>
<circle cx="301.1" cy="66.8" r="3.2" fill="url(#sL)"/>
<circle cx="316.5" cy="68.0" r="3.2" fill="url(#sL)"/>
<circle cx="309.2" cy="50.6" r="3.2" fill="url(#sL)"/>
<circle cx="304.5" cy="63.5" r="3.2" fill="url(#sL)"/>
<circle cx="299.1" cy="75.9" r="3.2" fill="url(#sL)"/>
<circle cx="316.9" cy="73.3" r="3.2" fill="url(#sL)"/>
<circle cx="313.9" cy="84.4" r="3.2" fill="url(#sL)"/>
<circle cx="301.1" cy="94.7" r="3.2" fill="url(#sL)"/>
<circle cx="309.2" cy="78.5" r="3.2" fill="url(#sL)"/>
<circle cx="304.5" cy="91.4" r="3.2" fill="url(#sL)"/>
<circle cx="276.8" cy="46.9" r="3.4" fill="url(#sR)"/>
<circle cx="289.4" cy="50.2" r="3.4" fill="url(#sR)"/>
<circle cx="273.2" cy="59.1" r="3.4" fill="url(#sR)"/>
<circle cx="285.7" cy="63.5" r="3.4" fill="url(#sR)"/>
<circle cx="276.8" cy="74.8" r="3.4" fill="url(#sR)"/>
<circle cx="289.4" cy="78.1" r="3.4" fill="url(#sR)"/>
<circle cx="273.2" cy="87.0" r="3.4" fill="url(#sR)"/>
<circle cx="285.7" cy="91.4" r="3.4" fill="url(#sR)"/>
<circle cx="304.7" cy="46.9" r="3.4" fill="url(#sR)"/>
<circle cx="317.3" cy="50.2" r="3.4" fill="url(#sR)"/>
<circle cx="301.1" cy="59.1" r="3.4" fill="url(#sR)"/>
<circle cx="313.6" cy="63.5" r="3.4" fill="url(#sR)"/>
<circle cx="304.7" cy="74.8" r="3.4" fill="url(#sR)"/>
<circle cx="317.3" cy="78.1" r="3.4" fill="url(#sR)"/>
<circle cx="301.1" cy="87.0" r="3.4" fill="url(#sR)"/>
<circle cx="313.6" cy="91.4" r="3.4" fill="url(#sR)"/>
<text x="269.00" y="32.10" font-size="10" text-anchor="start" fill="#000"  style="">Zn-datz-ipa</text>
<circle cx="267.40" cy="156.60" r="1.8" fill="#2b8ef5"/>
<circle cx="287.60" cy="147.50" r="1.8" fill="#2b8ef5"/>
<circle cx="301.60" cy="139.30" r="1.8" fill="#2b8ef5"/>
<circle cx="312.40" cy="131.60" r="1.8" fill="#2b8ef5"/>
<circle cx="321.80" cy="125.10" r="1.8" fill="#2b8ef5"/>
<circle cx="329.80" cy="119.10" r="1.8" fill="#2b8ef5"/>
<circle cx="336.50" cy="114.30" r="1.8" fill="#2b8ef5"/>
<circle cx="342.30" cy="110.20" r="1.8" fill="#2b8ef5"/>
<circle cx="347.30" cy="106.40" r="1.8" fill="#2b8ef5"/>
<circle cx="351.80" cy="103.70" r="1.8" fill="#2b8ef5"/>
<circle cx="356.00" cy="101.10" r="1.8" fill="#2b8ef5"/>
<circle cx="359.80" cy="98.70" r="1.8" fill="#2b8ef5"/>
<circle cx="362.70" cy="96.80" r="1.8" fill="#2b8ef5"/>
<circle cx="365.40" cy="95.30" r="1.8" fill="#2b8ef5"/>
<circle cx="368.00" cy="93.60" r="1.8" fill="#2b8ef5"/>
<circle cx="370.40" cy="91.90" r="1.8" fill="#2b8ef5"/>
<circle cx="382.10" cy="84.84" r="1.8" fill="#2b8ef5"/>
<circle cx="390.50" cy="79.76" r="1.8" fill="#2b8ef5"/>
<circle cx="396.40" cy="76.00" r="1.8" fill="#2b8ef5"/>
<circle cx="401.00" cy="72.90" r="1.8" fill="#2b8ef5"/>
<circle cx="405.30" cy="70.13" r="1.8" fill="#2b8ef5"/>
<circle cx="410.30" cy="66.87" r="1.8" fill="#2b8ef5"/>
<circle cx="414.70" cy="63.77" r="1.8" fill="#2b8ef5"/>
<circle cx="418.70" cy="61.13" r="1.8" fill="#2b8ef5"/>
<circle cx="422.20" cy="58.83" r="1.8" fill="#2b8ef5"/>
<circle cx="425.00" cy="56.99" r="1.8" fill="#2b8ef5"/>
<circle cx="427.70" cy="55.21" r="1.8" fill="#2b8ef5"/>
<circle cx="430.10" cy="53.63" r="1.8" fill="#2b8ef5"/>
<circle cx="432.40" cy="52.12" r="1.8" fill="#2b8ef5"/>
<circle cx="434.50" cy="50.74" r="1.8" fill="#2b8ef5"/>
<circle cx="436.40" cy="49.48" r="1.8" fill="#2b8ef5"/>
<circle cx="438.20" cy="48.30" r="1.8" fill="#2b8ef5"/>
<polygon points="294.40,156.50 295.06,158.09 296.78,158.23 295.47,159.35 295.87,161.02 294.40,160.12 292.93,161.02 293.33,159.35 292.02,158.23 293.74,158.09" fill="#cfc300"/>
<polygon points="312.70,150.50 313.36,152.09 315.08,152.23 313.77,153.35 314.17,155.02 312.70,154.12 311.23,155.02 311.63,153.35 310.32,152.23 312.04,152.09" fill="#cfc300"/>
<polygon points="324.00,145.00 324.66,146.59 326.38,146.73 325.07,147.85 325.47,149.52 324.00,148.62 322.53,149.52 322.93,147.85 321.62,146.73 323.34,146.59" fill="#cfc300"/>
<polygon points="332.50,139.90 333.16,141.49 334.88,141.63 333.57,142.75 333.97,144.42 332.50,143.53 331.03,144.42 331.43,142.75 330.12,141.63 331.84,141.49" fill="#cfc300"/>
<polygon points="339.00,135.50 339.66,137.09 341.38,137.23 340.07,138.35 340.47,140.02 339.00,139.12 337.53,140.02 337.93,138.35 336.62,137.23 338.34,137.09" fill="#cfc300"/>
<polygon points="344.20,130.80 344.86,132.39 346.58,132.53 345.27,133.65 345.67,135.32 344.20,134.43 342.73,135.32 343.13,133.65 341.82,132.53 343.54,132.39" fill="#cfc300"/>
<polygon points="348.70,127.30 349.36,128.89 351.08,129.03 349.77,130.15 350.17,131.82 348.70,130.93 347.23,131.82 347.63,130.15 346.32,129.03 348.04,128.89" fill="#cfc300"/>
<polygon points="352.90,123.90 353.56,125.49 355.28,125.63 353.97,126.75 354.37,128.42 352.90,127.53 351.43,128.42 351.83,126.75 350.52,125.63 352.24,125.49" fill="#cfc300"/>
<polygon points="356.90,120.80 357.56,122.39 359.28,122.53 357.97,123.65 358.37,125.32 356.90,124.42 355.43,125.32 355.83,123.65 354.52,122.53 356.24,122.39" fill="#cfc300"/>
<polygon points="360.30,117.90 360.96,119.49 362.68,119.63 361.37,120.75 361.77,122.42 360.30,121.53 358.83,122.42 359.23,120.75 357.92,119.63 359.64,119.49" fill="#cfc300"/>
<polygon points="363.70,115.40 364.36,116.99 366.08,117.13 364.77,118.25 365.17,119.92 363.70,119.03 362.23,119.92 362.63,118.25 361.32,117.13 363.04,116.99" fill="#cfc300"/>
<polygon points="366.60,112.80 367.26,114.39 368.98,114.53 367.67,115.65 368.07,117.32 366.60,116.42 365.13,117.32 365.53,115.65 364.22,114.53 365.94,114.39" fill="#cfc300"/>
<polygon points="368.80,110.20 369.46,111.79 371.18,111.93 369.87,113.05 370.27,114.72 368.80,113.83 367.33,114.72 367.73,113.05 366.42,111.93 368.14,111.79" fill="#cfc300"/>
<polygon points="370.90,108.00 371.56,109.59 373.28,109.73 371.97,110.85 372.37,112.52 370.90,111.62 369.43,112.52 369.83,110.85 368.52,109.73 370.24,109.59" fill="#cfc300"/>
<polygon points="382.10,95.90 382.76,97.49 384.48,97.63 383.17,98.75 383.57,100.42 382.10,99.53 380.63,100.42 381.03,98.75 379.72,97.63 381.44,97.49" fill="#cfc300"/>
<polygon points="390.50,87.08 391.16,88.67 392.88,88.81 391.57,89.93 391.97,91.60 390.50,90.70 389.03,91.60 389.43,89.93 388.12,88.81 389.84,88.67" fill="#cfc300"/>
<polygon points="396.40,80.00 397.06,81.59 398.78,81.73 397.47,82.85 397.87,84.52 396.40,83.62 394.93,84.52 395.33,82.85 394.02,81.73 395.74,81.59" fill="#cfc300"/>
<polygon points="401.00,73.58 401.66,75.17 403.38,75.31 402.07,76.43 402.47,78.10 401.00,77.20 399.53,78.10 399.93,76.43 398.62,75.31 400.34,75.17" fill="#cfc300"/>
<polygon points="405.30,68.10 405.96,69.69 407.68,69.83 406.37,70.95 406.77,72.62 405.30,71.72 403.83,72.62 404.23,70.95 402.92,69.83 404.64,69.69" fill="#cfc300"/>
<polygon points="410.30,60.90 410.96,62.49 412.68,62.63 411.37,63.75 411.77,65.42 410.30,64.53 408.83,65.42 409.23,63.75 407.92,62.63 409.64,62.49" fill="#cfc300"/>
<polygon points="414.70,55.40 415.36,56.99 417.08,57.13 415.77,58.25 416.17,59.92 414.70,59.03 413.23,59.92 413.63,58.25 412.32,57.13 414.04,56.99" fill="#cfc300"/>
<polygon points="418.70,49.60 419.36,51.19 421.08,51.33 419.77,52.45 420.17,54.12 418.70,53.23 417.23,54.12 417.63,52.45 416.32,51.33 418.04,51.19" fill="#cfc300"/>
<polygon points="422.20,45.10 422.86,46.69 424.58,46.83 423.27,47.95 423.67,49.62 422.20,48.73 420.73,49.62 421.13,47.95 419.82,46.83 421.54,46.69" fill="#cfc300"/>
<polygon points="425.00,41.20 425.66,42.79 427.38,42.93 426.07,44.05 426.47,45.72 425.00,44.83 423.53,45.72 423.93,44.05 422.62,42.93 424.34,42.79" fill="#cfc300"/>
<polygon points="427.70,37.20 428.36,38.79 430.08,38.93 428.77,40.05 429.17,41.72 427.70,40.83 426.23,41.72 426.63,40.05 425.32,38.93 427.04,38.79" fill="#cfc300"/>
<polygon points="430.10,34.10 430.76,35.69 432.48,35.83 431.17,36.95 431.57,38.62 430.10,37.73 428.63,38.62 429.03,36.95 427.72,35.83 429.44,35.69" fill="#cfc300"/>
<polygon points="432.40,31.40 433.06,32.99 434.78,33.13 433.47,34.25 433.87,35.92 432.40,35.02 430.93,35.92 431.33,34.25 430.02,33.13 431.74,32.99" fill="#cfc300"/>
<polygon points="434.50,28.60 435.16,30.19 436.88,30.33 435.57,31.45 435.97,33.12 434.50,32.23 433.03,33.12 433.43,31.45 432.12,30.33 433.84,30.19" fill="#cfc300"/>
<polygon points="436.40,25.70 437.06,27.29 438.78,27.43 437.47,28.55 437.87,30.22 436.40,29.32 434.93,30.22 435.33,28.55 434.02,27.43 435.74,27.29" fill="#cfc300"/>
<polygon points="438.20,22.80 438.86,24.39 440.58,24.53 439.27,25.65 439.67,27.32 438.20,26.43 436.73,27.32 437.13,25.65 435.82,24.53 437.54,24.39" fill="#cfc300"/>
<path d="M284.60,159.93L288.80,159.93L286.70,156.27Z" fill="#ff0000"/>
<path d="M303.80,152.63L308.00,152.63L305.90,148.97Z" fill="#ff0000"/>
<path d="M315.70,146.23L319.90,146.23L317.80,142.57Z" fill="#ff0000"/>
<path d="M324.80,140.33L329.00,140.33L326.90,136.67Z" fill="#ff0000"/>
<path d="M332.00,135.13L336.20,135.13L334.10,131.47Z" fill="#ff0000"/>
<path d="M338.00,130.83L342.20,130.83L340.10,127.17Z" fill="#ff0000"/>
<path d="M343.20,126.23L347.40,126.23L345.30,122.57Z" fill="#ff0000"/>
<path d="M347.40,122.73L351.60,122.73L349.50,119.07Z" fill="#ff0000"/>
<path d="M351.70,118.83L355.90,118.83L353.80,115.17Z" fill="#ff0000"/>
<path d="M355.50,116.23L359.70,116.23L357.60,112.57Z" fill="#ff0000"/>
<path d="M358.50,113.73L362.70,113.73L360.60,110.07Z" fill="#ff0000"/>
<path d="M362.00,111.13L366.20,111.13L364.10,107.47Z" fill="#ff0000"/>
<path d="M364.50,109.13L368.70,109.13L366.60,105.47Z" fill="#ff0000"/>
<path d="M366.60,107.23L370.80,107.23L368.70,103.57Z" fill="#ff0000"/>
<path d="M368.80,105.13L373.00,105.13L370.90,101.47Z" fill="#ff0000"/>
<path d="M380.00,95.69L384.20,95.69L382.10,92.04Z" fill="#ff0000"/>
<path d="M388.40,88.71L392.60,88.71L390.50,85.06Z" fill="#ff0000"/>
<path d="M394.30,83.93L398.50,83.93L396.40,80.27Z" fill="#ff0000"/>
<path d="M398.90,79.90L403.10,79.90L401.00,76.25Z" fill="#ff0000"/>
<path d="M403.20,75.94L407.40,75.94L405.30,72.29Z" fill="#ff0000"/>
<path d="M408.20,71.59L412.40,71.59L410.30,67.93Z" fill="#ff0000"/>
<path d="M412.60,67.60L416.80,67.60L414.70,63.95Z" fill="#ff0000"/>
<path d="M416.60,63.73L420.80,63.73L418.70,60.07Z" fill="#ff0000"/>
<path d="M420.10,60.69L424.30,60.69L422.20,57.04Z" fill="#ff0000"/>
<path d="M422.90,58.27L427.10,58.27L425.00,54.61Z" fill="#ff0000"/>
<path d="M425.60,55.93L429.80,55.93L427.70,52.27Z" fill="#ff0000"/>
<path d="M428.00,53.85L432.20,53.85L430.10,50.19Z" fill="#ff0000"/>
<path d="M430.30,51.85L434.50,51.85L432.40,48.20Z" fill="#ff0000"/>
<path d="M432.40,50.03L436.60,50.03L434.50,46.38Z" fill="#ff0000"/>
<path d="M434.30,48.39L438.50,48.39L436.40,44.73Z" fill="#ff0000"/>
<path d="M436.10,46.83L440.30,46.83L438.20,43.17Z" fill="#ff0000"/>
<text x="348.20" y="89.00" font-size="10" text-anchor="middle" fill="#2b8ef5" textLength="19.7" lengthAdjust="spacingAndGlyphs">C<tspan font-size="6.8" dy="1.8">2</tspan><tspan dy="-1.8">H</tspan><tspan font-size="6.8" dy="1.8">6</tspan></text>
<text x="290.20" y="135.90" font-size="10" text-anchor="middle" fill="#ff0000" textLength="19.4" lengthAdjust="spacingAndGlyphs">C<tspan font-size="6.8" dy="1.8">2</tspan><tspan dy="-1.8">H</tspan><tspan font-size="6.8" dy="1.8">4</tspan></text>
<text x="352.30" y="151.90" font-size="10" text-anchor="middle" fill="#cfc300" textLength="19.8" lengthAdjust="spacingAndGlyphs">C<tspan font-size="6.8" dy="1.8">2</tspan><tspan dy="-1.8">H</tspan><tspan font-size="6.8" dy="1.8">2</tspan></text>
<rect x="256.60" y="19.70" width="183.70" height="147.90" fill="none" stroke="#000" stroke-width="1.7"/>
<line x1="491.30" y1="162.90" x2="495.30" y2="162.90" stroke="#000" stroke-width="1.2" />
<text x="490.60" y="165.87" font-size="9" text-anchor="end" fill="#000"  style="">0</text>
<line x1="493.30" y1="150.68" x2="495.30" y2="150.68" stroke="#000" stroke-width="1.2" />
<line x1="491.30" y1="138.46" x2="495.30" y2="138.46" stroke="#000" stroke-width="1.2" />
<text x="490.60" y="141.43" font-size="9" text-anchor="end" fill="#000"  style="">20</text>
<line x1="493.30" y1="126.24" x2="495.30" y2="126.24" stroke="#000" stroke-width="1.2" />
<line x1="491.30" y1="114.02" x2="495.30" y2="114.02" stroke="#000" stroke-width="1.2" />
<text x="490.60" y="116.99" font-size="9" text-anchor="end" fill="#000"  style="">40</text>
<line x1="493.30" y1="101.80" x2="495.30" y2="101.80" stroke="#000" stroke-width="1.2" />
<line x1="491.30" y1="89.58" x2="495.30" y2="89.58" stroke="#000" stroke-width="1.2" />
<text x="490.60" y="92.55" font-size="9" text-anchor="end" fill="#000"  style="">60</text>
<line x1="493.30" y1="77.36" x2="495.30" y2="77.36" stroke="#000" stroke-width="1.2" />
<line x1="491.30" y1="65.14" x2="495.30" y2="65.14" stroke="#000" stroke-width="1.2" />
<text x="490.60" y="68.11" font-size="9" text-anchor="end" fill="#000"  style="">80</text>
<line x1="493.30" y1="52.92" x2="495.30" y2="52.92" stroke="#000" stroke-width="1.2" />
<line x1="491.30" y1="40.70" x2="495.30" y2="40.70" stroke="#000" stroke-width="1.2" />
<text x="490.60" y="43.67" font-size="9" text-anchor="end" fill="#000"  style="">100</text>
<line x1="493.30" y1="28.48" x2="495.30" y2="28.48" stroke="#000" stroke-width="1.2" />
<line x1="491.30" y1="16.26" x2="495.30" y2="16.26" stroke="#000" stroke-width="1.2" />
<text x="490.60" y="19.23" font-size="9" text-anchor="end" fill="#000"  style="">120</text>
<line x1="495.30" y1="165.30" x2="495.30" y2="168.30" stroke="#000" stroke-width="1.1" />
<line x1="509.03" y1="165.30" x2="509.03" y2="166.90" stroke="#000" stroke-width="1.1" />
<line x1="517.06" y1="165.30" x2="517.06" y2="166.90" stroke="#000" stroke-width="1.1" />
<line x1="522.75" y1="165.30" x2="522.75" y2="166.90" stroke="#000" stroke-width="1.1" />
<line x1="527.17" y1="165.30" x2="527.17" y2="166.90" stroke="#000" stroke-width="1.1" />
<line x1="530.78" y1="165.30" x2="530.78" y2="166.90" stroke="#000" stroke-width="1.1" />
<line x1="533.84" y1="165.30" x2="533.84" y2="166.90" stroke="#000" stroke-width="1.1" />
<line x1="536.48" y1="165.30" x2="536.48" y2="166.90" stroke="#000" stroke-width="1.1" />
<line x1="538.81" y1="165.30" x2="538.81" y2="166.90" stroke="#000" stroke-width="1.1" />
<line x1="540.90" y1="165.30" x2="540.90" y2="168.30" stroke="#000" stroke-width="1.1" />
<line x1="554.63" y1="165.30" x2="554.63" y2="166.90" stroke="#000" stroke-width="1.1" />
<line x1="562.66" y1="165.30" x2="562.66" y2="166.90" stroke="#000" stroke-width="1.1" />
<line x1="568.35" y1="165.30" x2="568.35" y2="166.90" stroke="#000" stroke-width="1.1" />
<line x1="572.77" y1="165.30" x2="572.77" y2="166.90" stroke="#000" stroke-width="1.1" />
<line x1="576.38" y1="165.30" x2="576.38" y2="166.90" stroke="#000" stroke-width="1.1" />
<line x1="579.44" y1="165.30" x2="579.44" y2="166.90" stroke="#000" stroke-width="1.1" />
<line x1="582.08" y1="165.30" x2="582.08" y2="166.90" stroke="#000" stroke-width="1.1" />
<line x1="584.41" y1="165.30" x2="584.41" y2="166.90" stroke="#000" stroke-width="1.1" />
<line x1="586.50" y1="165.30" x2="586.50" y2="168.30" stroke="#000" stroke-width="1.1" />
<line x1="600.23" y1="165.30" x2="600.23" y2="166.90" stroke="#000" stroke-width="1.1" />
<line x1="608.26" y1="165.30" x2="608.26" y2="166.90" stroke="#000" stroke-width="1.1" />
<line x1="613.95" y1="165.30" x2="613.95" y2="166.90" stroke="#000" stroke-width="1.1" />
<line x1="618.37" y1="165.30" x2="618.37" y2="166.90" stroke="#000" stroke-width="1.1" />
<line x1="621.98" y1="165.30" x2="621.98" y2="166.90" stroke="#000" stroke-width="1.1" />
<line x1="625.04" y1="165.30" x2="625.04" y2="166.90" stroke="#000" stroke-width="1.1" />
<line x1="627.68" y1="165.30" x2="627.68" y2="166.90" stroke="#000" stroke-width="1.1" />
<line x1="630.01" y1="165.30" x2="630.01" y2="166.90" stroke="#000" stroke-width="1.1" />
<line x1="632.10" y1="165.30" x2="632.10" y2="168.30" stroke="#000" stroke-width="1.1" />
<line x1="645.83" y1="165.30" x2="645.83" y2="166.90" stroke="#000" stroke-width="1.1" />
<line x1="653.86" y1="165.30" x2="653.86" y2="166.90" stroke="#000" stroke-width="1.1" />
<line x1="659.55" y1="165.30" x2="659.55" y2="166.90" stroke="#000" stroke-width="1.1" />
<line x1="663.97" y1="165.30" x2="663.97" y2="166.90" stroke="#000" stroke-width="1.1" />
<line x1="667.58" y1="165.30" x2="667.58" y2="166.90" stroke="#000" stroke-width="1.1" />
<line x1="670.64" y1="165.30" x2="670.64" y2="166.90" stroke="#000" stroke-width="1.1" />
<line x1="673.28" y1="165.30" x2="673.28" y2="166.90" stroke="#000" stroke-width="1.1" />
<line x1="675.61" y1="165.30" x2="675.61" y2="166.90" stroke="#000" stroke-width="1.1" />
<line x1="677.70" y1="165.30" x2="677.70" y2="168.30" stroke="#000" stroke-width="1.1" />
<text x="495.30" y="177.17" font-size="9" text-anchor="middle" fill="#000"  style="">0.01</text>
<text x="540.90" y="177.17" font-size="9" text-anchor="middle" fill="#000"  style="">0.1</text>
<text x="586.50" y="177.17" font-size="9" text-anchor="middle" fill="#000"  style="">1</text>
<text x="632.10" y="177.17" font-size="9" text-anchor="middle" fill="#000"  style="">10</text>
<text x="677.70" y="177.17" font-size="9" text-anchor="middle" fill="#000"  style="">100</text>
<text transform="translate(473.17,92.65) rotate(-90)" x="0" y="0" font-size="9" text-anchor="middle" fill="#000" textLength="124.2" lengthAdjust="spacingAndGlyphs">Quantity Adsorbed (cm<tspan font-size="6" dy="-3">3</tspan><tspan dy="3">/g STP)</tspan></text>
<text x="584.3" y="188.8" font-size="9" text-anchor="middle"><tspan font-style="italic">P</tspan> (kPa)</text>
<text x="511.80" y="29.90" font-size="10" text-anchor="start" fill="#000"  style="">TIFSIX-2-Cu-i</text>
<radialGradient id="sT" cx="0.38" cy="0.35" r="0.7"><stop offset="0" stop-color="#ecd08a"/><stop offset="0.6" stop-color="#c9a252"/><stop offset="1" stop-color="#9a7838"/></radialGradient>
<radialGradient id="sG" cx="0.4" cy="0.4" r="0.7"><stop offset="0" stop-color="#dedede"/><stop offset="0.6" stop-color="#acacac"/><stop offset="1" stop-color="#686868"/></radialGradient>
<radialGradient id="qd" cx="0.5" cy="0.5" r="0.6"><stop offset="0" stop-color="#0a0a0a"/><stop offset="0.7" stop-color="#1e1e1e"/><stop offset="1" stop-color="#3a3a3a"/></radialGradient>
<rect x="538.0" y="49.9" width="5.8" height="6.0" fill="#8e8e8e" rx="1.2"/>
<rect x="531.3" y="57.6" width="6.0" height="5.8" fill="#8e8e8e" rx="1.2"/>
<circle cx="540.9" cy="54.4" r="1.7" fill="#a4a4a4"/>
<circle cx="535.8" cy="60.5" r="1.7" fill="#a4a4a4"/>
<circle cx="540.9" cy="51.4" r="1.7" fill="#a4a4a4"/>
<circle cx="532.8" cy="60.5" r="1.7" fill="#a4a4a4"/>
<rect x="536.6" y="54.6" width="7.2" height="8.8" fill="#0c0c0c" rx="2"/>
<rect x="538.0" y="76.9" width="5.8" height="6.0" fill="#8e8e8e" rx="1.2"/>
<rect x="531.3" y="69.4" width="6.0" height="5.8" fill="#8e8e8e" rx="1.2"/>
<circle cx="540.9" cy="78.4" r="1.7" fill="#a4a4a4"/>
<circle cx="535.8" cy="72.3" r="1.7" fill="#a4a4a4"/>
<circle cx="540.9" cy="81.4" r="1.7" fill="#a4a4a4"/>
<circle cx="532.8" cy="72.3" r="1.7" fill="#a4a4a4"/>
<rect x="536.6" y="69.4" width="7.2" height="8.8" fill="#0c0c0c" rx="2"/>
<rect x="549.8" y="49.9" width="5.8" height="6.0" fill="#8e8e8e" rx="1.2"/>
<rect x="556.3" y="57.6" width="6.0" height="5.8" fill="#8e8e8e" rx="1.2"/>
<circle cx="552.7" cy="54.4" r="1.7" fill="#a4a4a4"/>
<circle cx="557.8" cy="60.5" r="1.7" fill="#a4a4a4"/>
<circle cx="552.7" cy="51.4" r="1.7" fill="#a4a4a4"/>
<circle cx="560.8" cy="60.5" r="1.7" fill="#a4a4a4"/>
<rect x="549.8" y="54.6" width="7.2" height="8.8" fill="#0c0c0c" rx="2"/>
<rect x="549.8" y="76.9" width="5.8" height="6.0" fill="#8e8e8e" rx="1.2"/>
<rect x="556.3" y="69.4" width="6.0" height="5.8" fill="#8e8e8e" rx="1.2"/>
<circle cx="552.7" cy="78.4" r="1.7" fill="#a4a4a4"/>
<circle cx="557.8" cy="72.3" r="1.7" fill="#a4a4a4"/>
<circle cx="552.7" cy="81.4" r="1.7" fill="#a4a4a4"/>
<circle cx="560.8" cy="72.3" r="1.7" fill="#a4a4a4"/>
<rect x="549.8" y="69.4" width="7.2" height="8.8" fill="#0c0c0c" rx="2"/>
<rect x="540.8" y="60.400000000000006" width="12" height="12" fill="#fff"/>
<circle cx="522.8" cy="66.4" r="2.9" fill="url(#sG)"/>
<circle cx="546.8" cy="42.4" r="2.9" fill="url(#sG)"/>
<circle cx="525.8" cy="66.4" r="2.9" fill="url(#sG)"/>
<circle cx="546.8" cy="45.4" r="2.9" fill="url(#sG)"/>
<circle cx="528.8" cy="66.4" r="2.9" fill="url(#sG)"/>
<circle cx="546.8" cy="48.4" r="2.9" fill="url(#sG)"/>
<circle cx="531.8" cy="66.4" r="2.9" fill="url(#sG)"/>
<circle cx="546.8" cy="51.4" r="2.9" fill="url(#sG)"/>
<circle cx="534.8" cy="66.4" r="2.9" fill="url(#sG)"/>
<circle cx="546.8" cy="54.4" r="2.9" fill="url(#sG)"/>
<circle cx="537.8" cy="66.4" r="2.9" fill="url(#sG)"/>
<circle cx="546.8" cy="57.4" r="2.9" fill="url(#sG)"/>
<circle cx="540.8" cy="66.4" r="2.9" fill="url(#sG)"/>
<circle cx="546.8" cy="60.4" r="2.9" fill="url(#sG)"/>
<circle cx="552.8" cy="66.4" r="2.9" fill="url(#sG)"/>
<circle cx="546.8" cy="72.4" r="2.9" fill="url(#sG)"/>
<circle cx="555.8" cy="66.4" r="2.9" fill="url(#sG)"/>
<circle cx="546.8" cy="75.4" r="2.9" fill="url(#sG)"/>
<circle cx="558.8" cy="66.4" r="2.9" fill="url(#sG)"/>
<circle cx="546.8" cy="78.4" r="2.9" fill="url(#sG)"/>
<circle cx="561.8" cy="66.4" r="2.9" fill="url(#sG)"/>
<circle cx="546.8" cy="81.4" r="2.9" fill="url(#sG)"/>
<circle cx="564.8" cy="66.4" r="2.9" fill="url(#sG)"/>
<circle cx="546.8" cy="84.4" r="2.9" fill="url(#sG)"/>
<circle cx="567.8" cy="66.4" r="2.9" fill="url(#sG)"/>
<circle cx="546.8" cy="87.4" r="2.9" fill="url(#sG)"/>
<circle cx="570.8" cy="66.4" r="2.9" fill="url(#sG)"/>
<circle cx="546.8" cy="90.4" r="2.9" fill="url(#sG)"/>
<circle cx="521.7" cy="66.4" r="2.6" fill="url(#sL)"/>
<circle cx="571.5" cy="66.4" r="2.6" fill="url(#sL)"/>
<circle cx="546.8" cy="41.0" r="2.6" fill="url(#sL)"/>
<circle cx="546.8" cy="91.8" r="2.6" fill="url(#sL)"/>
<circle cx="543.5999999999999" cy="63.2" r="2.6" fill="url(#sL)"/>
<circle cx="550.0" cy="63.2" r="2.6" fill="url(#sL)"/>
<circle cx="543.5999999999999" cy="69.60000000000001" r="2.6" fill="url(#sL)"/>
<circle cx="550.0" cy="69.60000000000001" r="2.6" fill="url(#sL)"/>
<circle cx="546.8" cy="66.4" r="1.8" fill="#b04048"/>
<rect x="529.9" y="49.4" width="5.2" height="5.2" fill="#5c6270" transform="rotate(25 532.5 52)"/>
<circle cx="531.6" cy="48.0" r="2.8" fill="url(#sT)"/>
<circle cx="536.6" cy="50.6" r="2.8" fill="url(#sT)"/>
<circle cx="528.5" cy="53.0" r="2.8" fill="url(#sT)"/>
<circle cx="534.2" cy="55.8" r="2.8" fill="url(#sT)"/>
<rect x="530.9" y="50.4" width="3.2" height="3.2" fill="#5c6270" transform="rotate(25 532.5 52)"/>
<rect x="558.5" y="49.4" width="5.2" height="5.2" fill="#5c6270" transform="rotate(-25 561.1 52)"/>
<circle cx="562.0" cy="48.0" r="2.8" fill="url(#sT)"/>
<circle cx="557.0" cy="50.6" r="2.8" fill="url(#sT)"/>
<circle cx="565.1" cy="53.0" r="2.8" fill="url(#sT)"/>
<circle cx="559.4" cy="55.8" r="2.8" fill="url(#sT)"/>
<rect x="559.5" y="50.4" width="3.2" height="3.2" fill="#5c6270" transform="rotate(-25 561.1 52)"/>
<rect x="529.9" y="78.2" width="5.2" height="5.2" fill="#5c6270" transform="rotate(-25 532.5 80.8)"/>
<circle cx="531.6" cy="84.8" r="2.8" fill="url(#sT)"/>
<circle cx="536.6" cy="82.2" r="2.8" fill="url(#sT)"/>
<circle cx="528.5" cy="79.8" r="2.8" fill="url(#sT)"/>
<circle cx="534.2" cy="77.0" r="2.8" fill="url(#sT)"/>
<rect x="530.9" y="79.2" width="3.2" height="3.2" fill="#5c6270" transform="rotate(-25 532.5 80.8)"/>
<rect x="558.5" y="78.2" width="5.2" height="5.2" fill="#5c6270" transform="rotate(25 561.1 80.8)"/>
<circle cx="562.0" cy="84.8" r="2.8" fill="url(#sT)"/>
<circle cx="557.0" cy="82.2" r="2.8" fill="url(#sT)"/>
<circle cx="565.1" cy="79.8" r="2.8" fill="url(#sT)"/>
<circle cx="559.4" cy="77.0" r="2.8" fill="url(#sT)"/>
<rect x="559.5" y="79.2" width="3.2" height="3.2" fill="#5c6270" transform="rotate(25 561.1 80.8)"/>
<circle cx="569.90" cy="162.80" r="1.8" fill="#2b8ef5"/>
<circle cx="582.40" cy="162.50" r="1.8" fill="#2b8ef5"/>
<circle cx="590.00" cy="162.10" r="1.8" fill="#2b8ef5"/>
<circle cx="595.30" cy="161.70" r="1.8" fill="#2b8ef5"/>
<circle cx="599.50" cy="161.30" r="1.8" fill="#2b8ef5"/>
<circle cx="601.90" cy="160.99" r="1.8" fill="#2b8ef5"/>
<circle cx="604.20" cy="160.70" r="1.8" fill="#2b8ef5"/>
<circle cx="606.42" cy="160.32" r="1.8" fill="#2b8ef5"/>
<circle cx="608.54" cy="159.89" r="1.8" fill="#2b8ef5"/>
<circle cx="610.58" cy="159.48" r="1.8" fill="#2b8ef5"/>
<circle cx="612.53" cy="159.05" r="1.8" fill="#2b8ef5"/>
<circle cx="614.41" cy="158.52" r="1.8" fill="#2b8ef5"/>
<circle cx="616.22" cy="158.01" r="1.8" fill="#2b8ef5"/>
<circle cx="617.95" cy="157.51" r="1.8" fill="#2b8ef5"/>
<circle cx="619.61" cy="156.86" r="1.8" fill="#2b8ef5"/>
<circle cx="621.21" cy="156.22" r="1.8" fill="#2b8ef5"/>
<circle cx="622.74" cy="155.61" r="1.8" fill="#2b8ef5"/>
<circle cx="624.21" cy="155.02" r="1.8" fill="#2b8ef5"/>
<circle cx="633.00" cy="150.90" r="1.8" fill="#2b8ef5"/>
<circle cx="639.50" cy="146.30" r="1.8" fill="#2b8ef5"/>
<circle cx="644.20" cy="143.00" r="1.8" fill="#2b8ef5"/>
<circle cx="648.80" cy="138.40" r="1.8" fill="#2b8ef5"/>
<circle cx="652.10" cy="135.80" r="1.8" fill="#2b8ef5"/>
<circle cx="656.70" cy="131.10" r="1.8" fill="#2b8ef5"/>
<circle cx="660.60" cy="126.60" r="1.8" fill="#2b8ef5"/>
<circle cx="663.80" cy="122.41" r="1.8" fill="#2b8ef5"/>
<circle cx="666.80" cy="118.48" r="1.8" fill="#2b8ef5"/>
<circle cx="669.60" cy="114.81" r="1.8" fill="#2b8ef5"/>
<circle cx="672.20" cy="111.40" r="1.8" fill="#2b8ef5"/>
<circle cx="674.60" cy="108.26" r="1.8" fill="#2b8ef5"/>
<circle cx="676.60" cy="105.63" r="1.8" fill="#2b8ef5"/>
<circle cx="678.00" cy="103.80" r="1.8" fill="#2b8ef5"/>
<polygon points="502.50,157.45 503.07,158.82 504.54,158.94 503.42,159.90 503.76,161.34 502.50,160.57 501.24,161.34 501.58,159.90 500.46,158.94 501.93,158.82" fill="#cfc300"/>
<polygon points="515.80,154.05 516.37,155.42 517.84,155.54 516.72,156.50 517.06,157.94 515.80,157.17 514.54,157.94 514.88,156.50 513.76,155.54 515.23,155.42" fill="#cfc300"/>
<polygon points="524.20,150.65 524.77,152.02 526.24,152.14 525.12,153.10 525.46,154.54 524.20,153.77 522.94,154.54 523.28,153.10 522.16,152.14 523.63,152.02" fill="#cfc300"/>
<polygon points="531.00,147.15 531.57,148.52 533.04,148.64 531.92,149.60 532.26,151.04 531.00,150.27 529.74,151.04 530.08,149.60 528.96,148.64 530.43,148.52" fill="#cfc300"/>
<polygon points="536.50,143.75 537.07,145.12 538.54,145.24 537.42,146.20 537.76,147.64 536.50,146.87 535.24,147.64 535.58,146.20 534.46,145.24 535.93,145.12" fill="#cfc300"/>
<polygon points="541.60,140.25 542.17,141.62 543.64,141.74 542.52,142.70 542.86,144.14 541.60,143.37 540.34,144.14 540.68,142.70 539.56,141.74 541.03,141.62" fill="#cfc300"/>
<polygon points="546.40,136.85 546.97,138.22 548.44,138.34 547.32,139.30 547.66,140.74 546.40,139.97 545.14,140.74 545.48,139.30 544.36,138.34 545.83,138.22" fill="#cfc300"/>
<polygon points="550.70,133.65 551.27,135.02 552.74,135.14 551.62,136.10 551.96,137.54 550.70,136.77 549.44,137.54 549.78,136.10 548.66,135.14 550.13,135.02" fill="#cfc300"/>
<polygon points="554.70,130.55 555.27,131.92 556.74,132.04 555.62,133.00 555.96,134.44 554.70,133.67 553.44,134.44 553.78,133.00 552.66,132.04 554.13,131.92" fill="#cfc300"/>
<polygon points="558.60,127.35 559.17,128.72 560.64,128.84 559.52,129.80 559.86,131.24 558.60,130.47 557.34,131.24 557.68,129.80 556.56,128.84 558.03,128.72" fill="#cfc300"/>
<polygon points="562.20,124.25 562.77,125.62 564.24,125.74 563.12,126.70 563.46,128.14 562.20,127.37 560.94,128.14 561.28,126.70 560.16,125.74 561.63,125.62" fill="#cfc300"/>
<polygon points="565.80,121.05 566.37,122.42 567.84,122.54 566.72,123.50 567.06,124.94 565.80,124.17 564.54,124.94 564.88,123.50 563.76,122.54 565.23,122.42" fill="#cfc300"/>
<polygon points="569.10,118.05 569.67,119.42 571.14,119.54 570.02,120.50 570.36,121.94 569.10,121.17 567.84,121.94 568.18,120.50 567.06,119.54 568.53,119.42" fill="#cfc300"/>
<polygon points="572.50,115.15 573.07,116.52 574.54,116.64 573.42,117.60 573.76,119.04 572.50,118.27 571.24,119.04 571.58,117.60 570.46,116.64 571.93,116.52" fill="#cfc300"/>
<polygon points="575.60,112.60 576.17,113.96 577.64,114.08 576.52,115.04 576.86,116.48 575.60,115.71 574.34,116.48 574.68,115.04 573.56,114.08 575.03,113.96" fill="#cfc300"/>
<polygon points="578.59,110.13 579.16,111.50 580.63,111.62 579.51,112.58 579.85,114.02 578.59,113.25 577.32,114.02 577.67,112.58 576.54,111.62 578.02,111.50" fill="#cfc300"/>
<polygon points="581.46,107.76 582.03,109.13 583.51,109.25 582.38,110.21 582.73,111.65 581.46,110.88 580.20,111.65 580.54,110.21 579.42,109.25 580.90,109.13" fill="#cfc300"/>
<polygon points="584.24,105.48 584.81,106.85 586.28,106.96 585.16,107.93 585.50,109.37 584.24,108.60 582.97,109.37 583.32,107.93 582.19,106.96 583.67,106.85" fill="#cfc300"/>
<polygon points="586.91,103.26 587.48,104.63 588.95,104.75 587.83,105.71 588.17,107.15 586.91,106.38 585.64,107.15 585.99,105.71 584.86,104.75 586.34,104.63" fill="#cfc300"/>
<polygon points="589.48,101.12 590.05,102.48 591.53,102.60 590.40,103.56 590.75,105.00 589.48,104.23 588.22,105.00 588.56,103.56 587.44,102.60 588.91,102.48" fill="#cfc300"/>
<polygon points="591.96,99.05 592.53,100.42 594.01,100.53 592.88,101.50 593.22,102.94 591.96,102.17 590.70,102.94 591.04,101.50 589.92,100.53 591.39,100.42" fill="#cfc300"/>
<polygon points="594.35,97.06 594.92,98.43 596.39,98.54 595.27,99.51 595.61,100.95 594.35,100.18 593.09,100.95 593.43,99.51 592.31,98.54 593.78,98.43" fill="#cfc300"/>
<polygon points="596.65,95.14 597.22,96.51 598.70,96.63 597.57,97.59 597.92,99.03 596.65,98.26 595.39,99.03 595.73,97.59 594.61,96.63 596.08,96.51" fill="#cfc300"/>
<polygon points="598.87,93.29 599.44,94.66 600.91,94.78 599.79,95.74 600.13,97.18 598.87,96.41 597.61,97.18 597.95,95.74 596.82,94.78 598.30,94.66" fill="#cfc300"/>
<polygon points="601.01,91.43 601.57,92.80 603.05,92.91 601.93,93.88 602.27,95.32 601.01,94.55 599.74,95.32 600.09,93.88 598.96,92.91 600.44,92.80" fill="#cfc300"/>
<polygon points="603.06,89.54 603.63,90.91 605.11,91.03 603.98,91.99 604.33,93.43 603.06,92.66 601.80,93.43 602.14,91.99 601.02,91.03 602.50,90.91" fill="#cfc300"/>
<polygon points="605.05,87.72 605.62,89.09 607.09,89.21 605.97,90.17 606.31,91.61 605.05,90.84 603.78,91.61 604.13,90.17 603.00,89.21 604.48,89.09" fill="#cfc300"/>
<polygon points="606.96,85.97 607.53,87.34 609.00,87.46 607.88,88.42 608.22,89.86 606.96,89.09 605.69,89.86 606.04,88.42 604.91,87.46 606.39,87.34" fill="#cfc300"/>
<polygon points="608.80,84.28 609.37,85.65 610.84,85.77 609.72,86.73 610.06,88.17 608.80,87.40 607.54,88.17 607.88,86.73 606.75,85.77 608.23,85.65" fill="#cfc300"/>
<polygon points="610.57,82.66 611.14,84.03 612.62,84.14 611.49,85.11 611.84,86.55 610.57,85.78 609.31,86.55 609.65,85.11 608.53,84.14 610.00,84.03" fill="#cfc300"/>
<polygon points="612.28,81.10 612.85,82.47 614.33,82.59 613.20,83.55 613.55,84.99 612.28,84.22 611.02,84.99 611.36,83.55 610.24,82.59 611.71,82.47" fill="#cfc300"/>
<polygon points="613.93,79.67 614.50,81.04 615.97,81.15 614.85,82.12 615.19,83.56 613.93,82.79 612.66,83.56 613.01,82.12 611.88,81.15 613.36,81.04" fill="#cfc300"/>
<polygon points="615.51,78.29 616.08,79.65 617.56,79.77 616.43,80.73 616.78,82.17 615.51,81.40 614.25,82.17 614.59,80.73 613.47,79.77 614.95,79.65" fill="#cfc300"/>
<polygon points="617.04,76.95 617.61,78.32 619.09,78.44 617.96,79.40 618.31,80.84 617.04,80.07 615.78,80.84 616.12,79.40 615.00,78.44 616.47,78.32" fill="#cfc300"/>
<polygon points="618.52,75.67 619.08,77.04 620.56,77.15 619.44,78.12 619.78,79.56 618.52,78.79 617.25,79.56 617.59,78.12 616.47,77.15 617.95,77.04" fill="#cfc300"/>
<polygon points="619.93,74.43 620.50,75.80 621.98,75.92 620.85,76.88 621.20,78.32 619.93,77.55 618.67,78.32 619.01,76.88 617.89,75.92 619.37,75.80" fill="#cfc300"/>
<polygon points="621.30,73.24 621.87,74.61 623.35,74.73 622.22,75.69 622.56,77.13 621.30,76.36 620.04,77.13 620.38,75.69 619.26,74.73 620.73,74.61" fill="#cfc300"/>
<polygon points="622.62,72.09 623.19,73.46 624.66,73.58 623.54,74.54 623.88,75.98 622.62,75.21 621.35,75.98 621.70,74.54 620.57,73.58 622.05,73.46" fill="#cfc300"/>
<polygon points="623.89,70.99 624.46,72.35 625.93,72.47 624.81,73.43 625.15,74.87 623.89,74.10 622.62,74.87 622.97,73.43 621.84,72.47 623.32,72.35" fill="#cfc300"/>
<polygon points="633.70,64.15 634.27,65.52 635.74,65.64 634.62,66.60 634.96,68.04 633.70,67.27 632.44,68.04 632.78,66.60 631.66,65.64 633.13,65.52" fill="#cfc300"/>
<polygon points="640.00,59.45 640.57,60.82 642.04,60.94 640.92,61.90 641.26,63.34 640.00,62.57 638.74,63.34 639.08,61.90 637.96,60.94 639.43,60.82" fill="#cfc300"/>
<polygon points="644.70,56.25 645.27,57.62 646.74,57.74 645.62,58.70 645.96,60.14 644.70,59.37 643.44,60.14 643.78,58.70 642.66,57.74 644.13,57.62" fill="#cfc300"/>
<polygon points="648.70,53.15 649.27,54.52 650.74,54.64 649.62,55.60 649.96,57.04 648.70,56.27 647.44,57.04 647.78,55.60 646.66,54.64 648.13,54.52" fill="#cfc300"/>
<polygon points="651.90,51.55 652.47,52.92 653.94,53.04 652.82,54.00 653.16,55.44 651.90,54.67 650.64,55.44 650.98,54.00 649.86,53.04 651.33,52.92" fill="#cfc300"/>
<polygon points="656.60,48.05 657.17,49.42 658.64,49.54 657.52,50.50 657.86,51.94 656.60,51.17 655.34,51.94 655.68,50.50 654.56,49.54 656.03,49.42" fill="#cfc300"/>
<polygon points="660.50,45.55 661.07,46.92 662.54,47.04 661.42,48.00 661.76,49.44 660.50,48.67 659.24,49.44 659.58,48.00 658.46,47.04 659.93,46.92" fill="#cfc300"/>
<polygon points="663.70,43.65 664.27,45.02 665.74,45.14 664.62,46.10 664.96,47.54 663.70,46.77 662.44,47.54 662.78,46.10 661.66,45.14 663.13,45.02" fill="#cfc300"/>
<polygon points="666.90,41.75 667.47,43.12 668.94,43.24 667.82,44.20 668.16,45.64 666.90,44.87 665.64,45.64 665.98,44.20 664.86,43.24 666.33,43.12" fill="#cfc300"/>
<polygon points="670.00,39.65 670.57,41.02 672.04,41.14 670.92,42.10 671.26,43.54 670.00,42.77 668.74,43.54 669.08,42.10 667.96,41.14 669.43,41.02" fill="#cfc300"/>
<polygon points="673.20,37.35 673.77,38.72 675.24,38.84 674.12,39.80 674.46,41.24 673.20,40.47 671.94,41.24 672.28,39.80 671.16,38.84 672.63,38.72" fill="#cfc300"/>
<polygon points="676.30,34.95 676.87,36.32 678.34,36.44 677.22,37.40 677.56,38.84 676.30,38.07 675.04,38.84 675.38,37.40 674.26,36.44 675.73,36.32" fill="#cfc300"/>
<polygon points="678.40,33.35 678.97,34.72 680.44,34.84 679.32,35.80 679.66,37.24 678.40,36.47 677.14,37.24 677.48,35.80 676.36,34.84 677.83,34.72" fill="#cfc300"/>
<path d="M567.80,164.23L572.00,164.23L569.90,160.57Z" fill="#ff0000"/>
<path d="M580.30,163.63L584.50,163.63L582.40,159.97Z" fill="#ff0000"/>
<path d="M587.90,162.93L592.10,162.93L590.00,159.27Z" fill="#ff0000"/>
<path d="M593.20,161.73L597.40,161.73L595.30,158.07Z" fill="#ff0000"/>
<path d="M597.40,160.93L601.60,160.93L599.50,157.27Z" fill="#ff0000"/>
<path d="M599.80,160.45L604.00,160.45L601.90,156.79Z" fill="#ff0000"/>
<path d="M602.10,159.99L606.30,159.99L604.20,156.33Z" fill="#ff0000"/>
<path d="M604.32,159.42L608.52,159.42L606.42,155.77Z" fill="#ff0000"/>
<path d="M606.44,158.82L610.64,158.82L608.54,155.16Z" fill="#ff0000"/>
<path d="M608.48,158.23L612.68,158.23L610.58,154.58Z" fill="#ff0000"/>
<path d="M610.43,157.63L614.63,157.63L612.53,153.98Z" fill="#ff0000"/>
<path d="M612.31,156.94L616.51,156.94L614.41,153.29Z" fill="#ff0000"/>
<path d="M614.12,156.28L618.32,156.28L616.22,152.63Z" fill="#ff0000"/>
<path d="M615.85,155.65L620.05,155.65L617.95,151.99Z" fill="#ff0000"/>
<path d="M617.51,154.91L621.71,154.91L619.61,151.25Z" fill="#ff0000"/>
<path d="M619.11,154.20L623.31,154.20L621.21,150.54Z" fill="#ff0000"/>
<path d="M620.64,153.51L624.84,153.51L622.74,149.86Z" fill="#ff0000"/>
<path d="M622.11,152.86L626.31,152.86L624.21,149.20Z" fill="#ff0000"/>
<path d="M630.90,146.13L635.10,146.13L633.00,142.47Z" fill="#ff0000"/>
<path d="M636.80,141.63L641.00,141.63L638.90,137.97Z" fill="#ff0000"/>
<path d="M642.70,136.33L646.90,136.33L644.80,132.67Z" fill="#ff0000"/>
<path d="M646.70,132.93L650.90,132.93L648.80,129.27Z" fill="#ff0000"/>
<path d="M650.00,129.33L654.20,129.33L652.10,125.67Z" fill="#ff0000"/>
<path d="M654.60,123.83L658.80,123.83L656.70,120.17Z" fill="#ff0000"/>
<path d="M657.90,120.13L662.10,120.13L660.00,116.47Z" fill="#ff0000"/>
<path d="M661.40,116.08L665.60,116.08L663.50,112.43Z" fill="#ff0000"/>
<path d="M664.40,112.62L668.60,112.62L666.50,108.96Z" fill="#ff0000"/>
<path d="M667.20,109.38L671.40,109.38L669.30,105.73Z" fill="#ff0000"/>
<path d="M669.90,106.26L674.10,106.26L672.00,102.61Z" fill="#ff0000"/>
<path d="M672.40,103.37L676.60,103.37L674.50,99.72Z" fill="#ff0000"/>
<path d="M674.40,101.06L678.60,101.06L676.50,97.41Z" fill="#ff0000"/>
<path d="M675.90,99.33L680.10,99.33L678.00,95.67Z" fill="#ff0000"/>
<text x="636.60" y="86.20" font-size="10" text-anchor="middle" fill="#cfc300" textLength="19.4" lengthAdjust="spacingAndGlyphs">C<tspan font-size="6.8" dy="1.8">2</tspan><tspan dy="-1.8">H</tspan><tspan font-size="6.8" dy="1.8">2</tspan></text>
<text x="618.70" y="134.50" font-size="10" text-anchor="middle" fill="#ff0000" textLength="19.4" lengthAdjust="spacingAndGlyphs">C<tspan font-size="6.8" dy="1.8">2</tspan><tspan dy="-1.8">H</tspan><tspan font-size="6.8" dy="1.8">4</tspan></text>
<text x="658.10" y="152.60" font-size="10" text-anchor="middle" fill="#2b8ef5" textLength="18.7" lengthAdjust="spacingAndGlyphs">C<tspan font-size="6.8" dy="1.8">2</tspan><tspan dy="-1.8">H</tspan><tspan font-size="6.8" dy="1.8">6</tspan></text>
<rect x="495.30" y="16.20" width="183.70" height="149.10" fill="none" stroke="#000" stroke-width="1.7"/>
<line x1="24.40" y1="353.60" x2="28.40" y2="353.60" stroke="#000" stroke-width="1.2" />
<line x1="26.40" y1="342.65" x2="28.40" y2="342.65" stroke="#000" stroke-width="1.2" />
<line x1="24.40" y1="331.70" x2="28.40" y2="331.70" stroke="#000" stroke-width="1.2" />
<text x="23.60" y="334.67" font-size="9" text-anchor="end" fill="#000"  style="">10</text>
<line x1="26.40" y1="320.75" x2="28.40" y2="320.75" stroke="#000" stroke-width="1.2" />
<line x1="24.40" y1="309.80" x2="28.40" y2="309.80" stroke="#000" stroke-width="1.2" />
<text x="23.60" y="312.77" font-size="9" text-anchor="end" fill="#000"  style="">20</text>
<line x1="26.40" y1="298.85" x2="28.40" y2="298.85" stroke="#000" stroke-width="1.2" />
<line x1="24.40" y1="287.90" x2="28.40" y2="287.90" stroke="#000" stroke-width="1.2" />
<text x="23.60" y="290.87" font-size="9" text-anchor="end" fill="#000"  style="">30</text>
<line x1="26.40" y1="276.95" x2="28.40" y2="276.95" stroke="#000" stroke-width="1.2" />
<line x1="24.40" y1="266.00" x2="28.40" y2="266.00" stroke="#000" stroke-width="1.2" />
<text x="23.60" y="268.97" font-size="9" text-anchor="end" fill="#000"  style="">40</text>
<line x1="26.40" y1="255.05" x2="28.40" y2="255.05" stroke="#000" stroke-width="1.2" />
<line x1="24.40" y1="244.10" x2="28.40" y2="244.10" stroke="#000" stroke-width="1.2" />
<text x="23.60" y="247.07" font-size="9" text-anchor="end" fill="#000"  style="">50</text>
<line x1="26.40" y1="233.15" x2="28.40" y2="233.15" stroke="#000" stroke-width="1.2" />
<line x1="24.40" y1="222.20" x2="28.40" y2="222.20" stroke="#000" stroke-width="1.2" />
<text x="23.60" y="225.17" font-size="9" text-anchor="end" fill="#000"  style="">60</text>
<line x1="26.40" y1="211.25" x2="28.40" y2="211.25" stroke="#000" stroke-width="1.2" />
<line x1="24.40" y1="200.30" x2="28.40" y2="200.30" stroke="#000" stroke-width="1.2" />
<text x="23.60" y="203.27" font-size="9" text-anchor="end" fill="#000"  style="">70</text>
<text x="23.60" y="356.57" font-size="9" text-anchor="end" fill="#000"  style="">0</text>
<line x1="28.75" y1="353.60" x2="28.75" y2="355.20" stroke="#000" stroke-width="1.1" />
<line x1="34.07" y1="353.60" x2="34.07" y2="355.20" stroke="#000" stroke-width="1.1" />
<line x1="38.42" y1="353.60" x2="38.42" y2="355.20" stroke="#000" stroke-width="1.1" />
<line x1="42.10" y1="353.60" x2="42.10" y2="355.20" stroke="#000" stroke-width="1.1" />
<line x1="45.28" y1="353.60" x2="45.28" y2="355.20" stroke="#000" stroke-width="1.1" />
<line x1="48.09" y1="353.60" x2="48.09" y2="355.20" stroke="#000" stroke-width="1.1" />
<line x1="50.60" y1="353.60" x2="50.60" y2="356.60" stroke="#000" stroke-width="1.1" />
<line x1="67.13" y1="353.60" x2="67.13" y2="355.20" stroke="#000" stroke-width="1.1" />
<line x1="76.79" y1="353.60" x2="76.79" y2="355.20" stroke="#000" stroke-width="1.1" />
<line x1="83.65" y1="353.60" x2="83.65" y2="355.20" stroke="#000" stroke-width="1.1" />
<line x1="88.97" y1="353.60" x2="88.97" y2="355.20" stroke="#000" stroke-width="1.1" />
<line x1="93.32" y1="353.60" x2="93.32" y2="355.20" stroke="#000" stroke-width="1.1" />
<line x1="97.00" y1="353.60" x2="97.00" y2="355.20" stroke="#000" stroke-width="1.1" />
<line x1="100.18" y1="353.60" x2="100.18" y2="355.20" stroke="#000" stroke-width="1.1" />
<line x1="102.99" y1="353.60" x2="102.99" y2="355.20" stroke="#000" stroke-width="1.1" />
<line x1="105.50" y1="353.60" x2="105.50" y2="356.60" stroke="#000" stroke-width="1.1" />
<line x1="122.03" y1="353.60" x2="122.03" y2="355.20" stroke="#000" stroke-width="1.1" />
<line x1="131.69" y1="353.60" x2="131.69" y2="355.20" stroke="#000" stroke-width="1.1" />
<line x1="138.55" y1="353.60" x2="138.55" y2="355.20" stroke="#000" stroke-width="1.1" />
<line x1="143.87" y1="353.60" x2="143.87" y2="355.20" stroke="#000" stroke-width="1.1" />
<line x1="148.22" y1="353.60" x2="148.22" y2="355.20" stroke="#000" stroke-width="1.1" />
<line x1="151.90" y1="353.60" x2="151.90" y2="355.20" stroke="#000" stroke-width="1.1" />
<line x1="155.08" y1="353.60" x2="155.08" y2="355.20" stroke="#000" stroke-width="1.1" />
<line x1="157.89" y1="353.60" x2="157.89" y2="355.20" stroke="#000" stroke-width="1.1" />
<line x1="160.40" y1="353.60" x2="160.40" y2="356.60" stroke="#000" stroke-width="1.1" />
<line x1="176.93" y1="353.60" x2="176.93" y2="355.20" stroke="#000" stroke-width="1.1" />
<line x1="186.59" y1="353.60" x2="186.59" y2="355.20" stroke="#000" stroke-width="1.1" />
<line x1="193.45" y1="353.60" x2="193.45" y2="355.20" stroke="#000" stroke-width="1.1" />
<line x1="198.77" y1="353.60" x2="198.77" y2="355.20" stroke="#000" stroke-width="1.1" />
<line x1="203.12" y1="353.60" x2="203.12" y2="355.20" stroke="#000" stroke-width="1.1" />
<line x1="206.80" y1="353.60" x2="206.80" y2="355.20" stroke="#000" stroke-width="1.1" />
<line x1="209.98" y1="353.60" x2="209.98" y2="355.20" stroke="#000" stroke-width="1.1" />
<line x1="212.79" y1="353.60" x2="212.79" y2="355.20" stroke="#000" stroke-width="1.1" />
<line x1="215.30" y1="353.60" x2="215.30" y2="356.60" stroke="#000" stroke-width="1.1" />
<text x="50.60" y="366.97" font-size="9" text-anchor="middle" fill="#000"  style="">0.1</text>
<text x="105.50" y="366.97" font-size="9" text-anchor="middle" fill="#000"  style="">1</text>
<text x="160.40" y="366.97" font-size="9" text-anchor="middle" fill="#000"  style="">10</text>
<text x="215.30" y="366.97" font-size="9" text-anchor="middle" fill="#000"  style="">100</text>
<text transform="translate(9.37,278.00) rotate(-90)" x="0" y="0" font-size="9.3" text-anchor="middle" fill="#000" textLength="127.7" lengthAdjust="spacingAndGlyphs">Quantity Adsorbed (cm<tspan font-size="6" dy="-3">3</tspan><tspan dy="3">/g STP)</tspan></text>
<text x="118.4" y="377.8" font-size="9" text-anchor="middle"><tspan font-style="italic">P</tspan> (kPa)</text>
<text x="44.10" y="219.90" font-size="10" text-anchor="start" fill="#000" textLength="154.2" lengthAdjust="spacingAndGlyphs" style="">Zn-datz-ipa@SiO<tspan font-size="6.5" dy="2">2</tspan><tspan dy="-2">@TIFSIX-2-Cu-i</tspan></text>
<clipPath id="mold"><path d="M47.8,232 Q76,226.5 106,232 L105.2,257 Q103.5,268 99.5,274.5 Q95,281 88,283.5 L80,285.3 Q71,285.5 63.5,282 Q56,278 52.8,272 Q49.3,264 48.3,255 Z"/></clipPath>
<g clip-path="url(#mold)">
<rect x="46" y="226" width="62" height="62" fill="#dce9f8"/>
<line x1="73.6" y1="260.0" x2="70.5" y2="260.8" stroke="#2a72d2" stroke-width="0.9"/>
<line x1="77.0" y1="261.7" x2="79.7" y2="263.5" stroke="#2a72d2" stroke-width="0.9"/>
<line x1="84.4" y1="273.8" x2="87.1" y2="274.6" stroke="#2a72d2" stroke-width="0.9"/>
<line x1="51.5" y1="274.8" x2="50.3" y2="276.5" stroke="#2a72d2" stroke-width="0.9"/>
<line x1="105.9" y1="283.9" x2="104.3" y2="287.1" stroke="#2a72d2" stroke-width="0.9"/>
<line x1="55.6" y1="227.9" x2="55.4" y2="230.0" stroke="#2a72d2" stroke-width="0.9"/>
<line x1="57.6" y1="241.3" x2="60.7" y2="241.6" stroke="#2a72d2" stroke-width="0.9"/>
<line x1="72.9" y1="276.7" x2="72.7" y2="280.3" stroke="#2a72d2" stroke-width="0.9"/>
<line x1="76.5" y1="266.1" x2="76.8" y2="268.8" stroke="#2a72d2" stroke-width="0.9"/>
<line x1="106.9" y1="285.7" x2="103.6" y2="287.6" stroke="#2a72d2" stroke-width="0.9"/>
<line x1="65.2" y1="240.6" x2="66.6" y2="242.3" stroke="#2a72d2" stroke-width="0.9"/>
<line x1="92.7" y1="250.6" x2="90.1" y2="252.0" stroke="#2a72d2" stroke-width="0.9"/>
<line x1="104.4" y1="277.0" x2="107.0" y2="277.0" stroke="#2a72d2" stroke-width="0.9"/>
<line x1="101.5" y1="254.7" x2="98.5" y2="254.9" stroke="#2a72d2" stroke-width="0.9"/>
<line x1="50.5" y1="264.1" x2="48.4" y2="265.9" stroke="#2a72d2" stroke-width="0.9"/>
<line x1="51.3" y1="246.6" x2="47.4" y2="247.1" stroke="#2a72d2" stroke-width="0.9"/>
<line x1="53.2" y1="241.5" x2="55.2" y2="242.2" stroke="#2a72d2" stroke-width="0.9"/>
<line x1="94.6" y1="237.5" x2="94.0" y2="240.5" stroke="#2a72d2" stroke-width="0.9"/>
<line x1="57.6" y1="270.2" x2="60.9" y2="271.6" stroke="#2a72d2" stroke-width="0.9"/>
<line x1="53.1" y1="251.8" x2="55.2" y2="253.5" stroke="#2a72d2" stroke-width="0.9"/>
<line x1="105.2" y1="274.4" x2="107.7" y2="277.8" stroke="#2a72d2" stroke-width="0.9"/>
<line x1="58.9" y1="250.3" x2="55.6" y2="251.9" stroke="#2a72d2" stroke-width="0.9"/>
<line x1="52.1" y1="285.4" x2="54.2" y2="287.0" stroke="#2a72d2" stroke-width="0.9"/>
<line x1="93.1" y1="246.4" x2="94.4" y2="248.2" stroke="#2a72d2" stroke-width="0.9"/>
<line x1="51.5" y1="261.4" x2="54.0" y2="263.8" stroke="#2a72d2" stroke-width="0.9"/>
<line x1="68.7" y1="253.7" x2="65.5" y2="254.2" stroke="#2a72d2" stroke-width="0.9"/>
<line x1="81.0" y1="278.1" x2="83.1" y2="279.4" stroke="#2a72d2" stroke-width="0.9"/>
<line x1="101.4" y1="275.3" x2="103.2" y2="277.0" stroke="#2a72d2" stroke-width="0.9"/>
<line x1="91.1" y1="282.5" x2="94.7" y2="285.0" stroke="#2a72d2" stroke-width="0.9"/>
<line x1="99.8" y1="262.6" x2="100.4" y2="264.8" stroke="#2a72d2" stroke-width="0.9"/>
<line x1="48.4" y1="283.8" x2="51.1" y2="286.4" stroke="#2a72d2" stroke-width="0.9"/>
<line x1="61.7" y1="275.6" x2="60.9" y2="278.2" stroke="#2a72d2" stroke-width="0.9"/>
<line x1="56.7" y1="269.5" x2="59.2" y2="270.1" stroke="#2a72d2" stroke-width="0.9"/>
<line x1="80.1" y1="277.3" x2="79.2" y2="279.8" stroke="#2a72d2" stroke-width="0.9"/>
<line x1="102.0" y1="239.0" x2="104.6" y2="239.2" stroke="#2a72d2" stroke-width="0.9"/>
<line x1="73.2" y1="230.6" x2="75.7" y2="232.1" stroke="#2a72d2" stroke-width="0.9"/>
<line x1="80.9" y1="234.8" x2="82.7" y2="238.6" stroke="#2a72d2" stroke-width="0.9"/>
<line x1="105.8" y1="265.8" x2="103.9" y2="268.6" stroke="#2a72d2" stroke-width="0.9"/>
<line x1="54.6" y1="229.1" x2="58.8" y2="229.3" stroke="#2a72d2" stroke-width="0.9"/>
<line x1="88.8" y1="283.8" x2="92.3" y2="284.0" stroke="#2a72d2" stroke-width="0.9"/>
<line x1="75.4" y1="270.1" x2="77.8" y2="273.9" stroke="#2a72d2" stroke-width="0.9"/>
<line x1="50.6" y1="259.2" x2="47.7" y2="262.3" stroke="#2a72d2" stroke-width="0.9"/>
<line x1="91.0" y1="268.5" x2="87.5" y2="271.1" stroke="#2a72d2" stroke-width="0.9"/>
<line x1="67.5" y1="267.4" x2="63.5" y2="268.7" stroke="#2a72d2" stroke-width="0.9"/>
<line x1="71.4" y1="273.6" x2="68.3" y2="275.1" stroke="#2a72d2" stroke-width="0.9"/>
<line x1="84.1" y1="249.6" x2="83.2" y2="253.0" stroke="#2a72d2" stroke-width="0.9"/>
<line x1="50.9" y1="264.7" x2="46.7" y2="264.8" stroke="#2a72d2" stroke-width="0.9"/>
<line x1="90.4" y1="249.9" x2="88.1" y2="252.5" stroke="#2a72d2" stroke-width="0.9"/>
<line x1="72.9" y1="276.5" x2="76.6" y2="277.5" stroke="#2a72d2" stroke-width="0.9"/>
<line x1="47.8" y1="262.5" x2="48.0" y2="265.0" stroke="#2a72d2" stroke-width="0.9"/>
<line x1="88.6" y1="256.3" x2="87.1" y2="260.4" stroke="#2a72d2" stroke-width="0.9"/>
<line x1="61.6" y1="227.7" x2="63.8" y2="230.7" stroke="#2a72d2" stroke-width="0.9"/>
<line x1="58.4" y1="237.0" x2="54.9" y2="238.1" stroke="#2a72d2" stroke-width="0.9"/>
<line x1="73.0" y1="279.6" x2="74.9" y2="282.7" stroke="#2a72d2" stroke-width="0.9"/>
<line x1="58.1" y1="252.4" x2="54.6" y2="254.9" stroke="#2a72d2" stroke-width="0.9"/>
<line x1="99.7" y1="249.7" x2="99.0" y2="252.4" stroke="#2a72d2" stroke-width="0.9"/>
<line x1="54.3" y1="256.3" x2="50.7" y2="258.3" stroke="#2a72d2" stroke-width="0.9"/>
<line x1="89.4" y1="283.1" x2="90.9" y2="284.9" stroke="#2a72d2" stroke-width="0.9"/>
<line x1="73.5" y1="243.2" x2="75.9" y2="245.1" stroke="#2a72d2" stroke-width="0.9"/>
<line x1="84.2" y1="256.1" x2="86.4" y2="259.6" stroke="#2a72d2" stroke-width="0.9"/>
<line x1="105.9" y1="253.7" x2="107.9" y2="254.2" stroke="#2a72d2" stroke-width="0.9"/>
<line x1="99.2" y1="229.4" x2="97.2" y2="232.2" stroke="#2a72d2" stroke-width="0.9"/>
<line x1="64.9" y1="273.7" x2="67.2" y2="273.8" stroke="#2a72d2" stroke-width="0.9"/>
<line x1="73.7" y1="228.5" x2="71.5" y2="229.8" stroke="#2a72d2" stroke-width="0.9"/>
<line x1="54.6" y1="229.8" x2="53.4" y2="232.6" stroke="#2a72d2" stroke-width="0.9"/>
<line x1="84.4" y1="265.6" x2="80.8" y2="268.1" stroke="#2a72d2" stroke-width="0.9"/>
<line x1="87.8" y1="238.8" x2="87.9" y2="241.2" stroke="#2a72d2" stroke-width="0.9"/>
<line x1="46.7" y1="254.9" x2="45.1" y2="256.8" stroke="#2a72d2" stroke-width="0.9"/>
<line x1="62.6" y1="247.4" x2="60.7" y2="250.1" stroke="#2a72d2" stroke-width="0.9"/>
<line x1="83.5" y1="271.6" x2="84.8" y2="275.4" stroke="#2a72d2" stroke-width="0.9"/>
<line x1="101.3" y1="232.1" x2="97.6" y2="232.9" stroke="#2a72d2" stroke-width="0.9"/>
<line x1="53.9" y1="253.8" x2="52.3" y2="257.7" stroke="#2a72d2" stroke-width="0.9"/>
<line x1="69.0" y1="260.6" x2="65.3" y2="262.0" stroke="#2a72d2" stroke-width="0.9"/>
<line x1="103.6" y1="254.4" x2="102.4" y2="256.6" stroke="#2a72d2" stroke-width="0.9"/>
<line x1="90.0" y1="275.3" x2="88.4" y2="278.7" stroke="#2a72d2" stroke-width="0.9"/>
<line x1="59.0" y1="280.1" x2="54.6" y2="280.4" stroke="#2a72d2" stroke-width="0.9"/>
<line x1="78.8" y1="273.7" x2="81.0" y2="277.3" stroke="#2a72d2" stroke-width="0.9"/>
<line x1="98.2" y1="247.6" x2="101.2" y2="248.4" stroke="#2a72d2" stroke-width="0.9"/>
<line x1="79.6" y1="272.3" x2="79.7" y2="274.4" stroke="#2a72d2" stroke-width="0.9"/>
<line x1="95.4" y1="230.8" x2="93.4" y2="232.2" stroke="#2a72d2" stroke-width="0.9"/>
<line x1="66.4" y1="273.5" x2="68.6" y2="274.5" stroke="#2a72d2" stroke-width="0.9"/>
<line x1="77.5" y1="269.7" x2="74.2" y2="271.5" stroke="#2a72d2" stroke-width="0.9"/>
<line x1="103.7" y1="256.1" x2="101.5" y2="256.4" stroke="#2a72d2" stroke-width="0.9"/>
<line x1="59.5" y1="258.1" x2="61.8" y2="261.1" stroke="#2a72d2" stroke-width="0.9"/>
<line x1="85.0" y1="257.8" x2="82.0" y2="259.4" stroke="#2a72d2" stroke-width="0.9"/>
<line x1="65.0" y1="249.5" x2="61.3" y2="251.5" stroke="#2a72d2" stroke-width="0.9"/>
<line x1="58.7" y1="277.2" x2="55.4" y2="277.5" stroke="#2a72d2" stroke-width="0.9"/>
<line x1="81.0" y1="238.9" x2="80.6" y2="242.1" stroke="#2a72d2" stroke-width="0.9"/>
<line x1="82.9" y1="228.6" x2="79.6" y2="229.0" stroke="#2a72d2" stroke-width="0.9"/>
<line x1="70.4" y1="274.3" x2="69.8" y2="277.4" stroke="#2a72d2" stroke-width="0.9"/>
<line x1="88.2" y1="230.9" x2="87.8" y2="233.9" stroke="#2a72d2" stroke-width="0.9"/>
<line x1="104.4" y1="281.5" x2="106.5" y2="283.9" stroke="#2a72d2" stroke-width="0.9"/>
<line x1="53.7" y1="252.6" x2="50.2" y2="254.9" stroke="#2a72d2" stroke-width="0.9"/>
<line x1="75.1" y1="245.7" x2="78.0" y2="247.7" stroke="#2a72d2" stroke-width="0.9"/>
<line x1="102.4" y1="234.6" x2="100.9" y2="236.0" stroke="#2a72d2" stroke-width="0.9"/>
<line x1="57.8" y1="240.4" x2="56.3" y2="242.7" stroke="#2a72d2" stroke-width="0.9"/>
<line x1="67.7" y1="263.6" x2="71.3" y2="264.8" stroke="#2a72d2" stroke-width="0.9"/>
<line x1="53.5" y1="257.1" x2="55.3" y2="258.9" stroke="#2a72d2" stroke-width="0.9"/>
<line x1="78.4" y1="252.8" x2="79.5" y2="255.6" stroke="#2a72d2" stroke-width="0.9"/>
<line x1="78.3" y1="236.4" x2="81.2" y2="238.6" stroke="#2a72d2" stroke-width="0.9"/>
<line x1="84.9" y1="258.2" x2="81.8" y2="259.8" stroke="#2a72d2" stroke-width="0.9"/>
<line x1="98.3" y1="240.7" x2="95.5" y2="243.7" stroke="#2a72d2" stroke-width="0.9"/>
<line x1="101.1" y1="245.6" x2="103.4" y2="249.2" stroke="#2a72d2" stroke-width="0.9"/>
<line x1="59.3" y1="285.9" x2="57.1" y2="286.7" stroke="#2a72d2" stroke-width="0.9"/>
<line x1="60.6" y1="269.9" x2="62.1" y2="271.5" stroke="#2a72d2" stroke-width="0.9"/>
<line x1="96.8" y1="251.9" x2="94.9" y2="253.3" stroke="#2a72d2" stroke-width="0.9"/>
<line x1="70.6" y1="267.4" x2="73.1" y2="267.6" stroke="#2a72d2" stroke-width="0.9"/>
<line x1="87.6" y1="280.8" x2="85.3" y2="281.0" stroke="#2a72d2" stroke-width="0.9"/>
<line x1="76.8" y1="271.7" x2="76.8" y2="275.4" stroke="#2a72d2" stroke-width="0.9"/>
<line x1="57.5" y1="231.2" x2="59.5" y2="231.8" stroke="#2a72d2" stroke-width="0.9"/>
<line x1="79.7" y1="257.4" x2="79.1" y2="259.7" stroke="#2a72d2" stroke-width="0.9"/>
<line x1="57.3" y1="239.0" x2="53.3" y2="241.2" stroke="#2a72d2" stroke-width="0.9"/>
<line x1="102.5" y1="232.6" x2="106.8" y2="233.5" stroke="#2a72d2" stroke-width="0.9"/>
<line x1="74.2" y1="272.1" x2="75.8" y2="274.8" stroke="#2a72d2" stroke-width="0.9"/>
<line x1="77.4" y1="252.4" x2="76.8" y2="254.3" stroke="#2a72d2" stroke-width="0.9"/>
<line x1="88.8" y1="276.8" x2="91.4" y2="278.5" stroke="#2a72d2" stroke-width="0.9"/>
<line x1="91.1" y1="250.9" x2="93.1" y2="252.3" stroke="#2a72d2" stroke-width="0.9"/>
<line x1="77.3" y1="227.9" x2="73.5" y2="229.2" stroke="#2a72d2" stroke-width="0.9"/>
<line x1="89.0" y1="277.8" x2="87.8" y2="280.5" stroke="#2a72d2" stroke-width="0.9"/>
<line x1="82.6" y1="256.8" x2="78.6" y2="257.0" stroke="#2a72d2" stroke-width="0.9"/>
<line x1="61.8" y1="280.8" x2="59.0" y2="283.6" stroke="#2a72d2" stroke-width="0.9"/>
<line x1="95.7" y1="250.9" x2="91.7" y2="252.3" stroke="#2a72d2" stroke-width="0.9"/>
<line x1="88.4" y1="272.3" x2="86.2" y2="274.3" stroke="#2a72d2" stroke-width="0.9"/>
<line x1="90.1" y1="231.2" x2="91.6" y2="234.0" stroke="#2a72d2" stroke-width="0.9"/>
<line x1="46.6" y1="248.0" x2="45.1" y2="251.2" stroke="#2a72d2" stroke-width="0.9"/>
<line x1="60.2" y1="282.7" x2="58.7" y2="285.2" stroke="#2a72d2" stroke-width="0.9"/>
<line x1="86.2" y1="260.6" x2="85.9" y2="263.6" stroke="#2a72d2" stroke-width="0.9"/>
<line x1="107.0" y1="264.9" x2="104.7" y2="268.0" stroke="#2a72d2" stroke-width="0.9"/>
<line x1="105.8" y1="228.3" x2="104.4" y2="231.9" stroke="#2a72d2" stroke-width="0.9"/>
<line x1="61.7" y1="250.7" x2="64.1" y2="251.1" stroke="#2a72d2" stroke-width="0.9"/>
<line x1="68.9" y1="232.8" x2="71.9" y2="235.8" stroke="#2a72d2" stroke-width="0.9"/>
<line x1="79.6" y1="257.0" x2="76.2" y2="257.3" stroke="#2a72d2" stroke-width="0.9"/>
<line x1="106.7" y1="264.6" x2="104.9" y2="265.9" stroke="#2a72d2" stroke-width="0.9"/>
<line x1="82.4" y1="271.8" x2="86.7" y2="272.4" stroke="#2a72d2" stroke-width="0.9"/>
<line x1="55.8" y1="254.8" x2="58.5" y2="256.5" stroke="#2a72d2" stroke-width="0.9"/>
<line x1="83.3" y1="230.5" x2="80.3" y2="231.0" stroke="#2a72d2" stroke-width="0.9"/>
<line x1="78.1" y1="262.3" x2="79.2" y2="264.7" stroke="#2a72d2" stroke-width="0.9"/>
<line x1="86.0" y1="260.1" x2="88.3" y2="263.0" stroke="#2a72d2" stroke-width="0.9"/>
<line x1="64.1" y1="227.8" x2="65.6" y2="229.3" stroke="#2a72d2" stroke-width="0.9"/>
<line x1="55.6" y1="271.5" x2="57.0" y2="275.5" stroke="#2a72d2" stroke-width="0.9"/>
<line x1="91.7" y1="230.0" x2="87.3" y2="230.1" stroke="#2a72d2" stroke-width="0.9"/>
<line x1="50.5" y1="280.4" x2="51.2" y2="283.5" stroke="#2a72d2" stroke-width="0.9"/>
<line x1="105.4" y1="241.4" x2="105.0" y2="245.7" stroke="#2a72d2" stroke-width="0.9"/>
<line x1="90.1" y1="254.6" x2="86.1" y2="254.9" stroke="#2a72d2" stroke-width="0.9"/>
<line x1="82.8" y1="233.8" x2="81.6" y2="236.7" stroke="#2a72d2" stroke-width="0.9"/>
<line x1="58.4" y1="230.1" x2="58.2" y2="232.4" stroke="#2a72d2" stroke-width="0.9"/>
<line x1="73.0" y1="266.4" x2="73.4" y2="269.0" stroke="#2a72d2" stroke-width="0.9"/>
<line x1="81.5" y1="251.8" x2="79.0" y2="253.9" stroke="#2a72d2" stroke-width="0.9"/>
<line x1="106.9" y1="283.2" x2="105.1" y2="285.1" stroke="#2a72d2" stroke-width="0.9"/>
<line x1="52.9" y1="279.7" x2="50.2" y2="281.9" stroke="#2a72d2" stroke-width="0.9"/>
<line x1="67.9" y1="243.0" x2="66.0" y2="245.9" stroke="#2a72d2" stroke-width="0.9"/>
<line x1="82.1" y1="264.4" x2="80.3" y2="266.1" stroke="#2a72d2" stroke-width="0.9"/>
<line x1="61.2" y1="284.8" x2="57.1" y2="285.9" stroke="#2a72d2" stroke-width="0.9"/>
<line x1="48.4" y1="230.6" x2="50.4" y2="232.9" stroke="#2a72d2" stroke-width="0.9"/>
<line x1="84.0" y1="233.0" x2="83.7" y2="235.2" stroke="#2a72d2" stroke-width="0.9"/>
<line x1="51.3" y1="266.9" x2="50.7" y2="270.4" stroke="#2a72d2" stroke-width="0.9"/>
<line x1="68.8" y1="255.2" x2="71.0" y2="257.0" stroke="#2a72d2" stroke-width="0.9"/>
<line x1="91.4" y1="276.5" x2="93.7" y2="277.0" stroke="#2a72d2" stroke-width="0.9"/>
<line x1="95.4" y1="263.8" x2="93.5" y2="265.5" stroke="#2a72d2" stroke-width="0.9"/>
<line x1="71.9" y1="242.2" x2="69.5" y2="243.9" stroke="#2a72d2" stroke-width="0.9"/>
<line x1="85.9" y1="285.4" x2="87.6" y2="288.2" stroke="#2a72d2" stroke-width="0.9"/>
<line x1="91.5" y1="281.3" x2="92.2" y2="284.2" stroke="#2a72d2" stroke-width="0.9"/>
<line x1="51.9" y1="278.6" x2="54.1" y2="279.2" stroke="#2a72d2" stroke-width="0.9"/>
<line x1="80.4" y1="255.6" x2="78.9" y2="257.9" stroke="#2a72d2" stroke-width="0.9"/>
<line x1="93.3" y1="231.5" x2="96.2" y2="233.8" stroke="#2a72d2" stroke-width="0.9"/>
<line x1="51.0" y1="244.9" x2="48.6" y2="247.8" stroke="#2a72d2" stroke-width="0.9"/>
<line x1="63.3" y1="235.4" x2="64.9" y2="238.9" stroke="#2a72d2" stroke-width="0.9"/>
<line x1="68.4" y1="233.9" x2="66.3" y2="236.6" stroke="#2a72d2" stroke-width="0.9"/>
<line x1="102.0" y1="282.5" x2="99.1" y2="283.3" stroke="#2a72d2" stroke-width="0.9"/>
<line x1="95.0" y1="245.0" x2="96.6" y2="247.5" stroke="#2a72d2" stroke-width="0.9"/>
<line x1="103.0" y1="279.8" x2="105.1" y2="281.8" stroke="#2a72d2" stroke-width="0.9"/>
<line x1="68.3" y1="248.4" x2="69.3" y2="251.2" stroke="#2a72d2" stroke-width="0.9"/>
<line x1="57.9" y1="260.3" x2="55.2" y2="262.3" stroke="#2a72d2" stroke-width="0.9"/>
<line x1="97.0" y1="260.2" x2="100.3" y2="262.3" stroke="#2a72d2" stroke-width="0.9"/>
<line x1="99.7" y1="243.6" x2="103.0" y2="243.8" stroke="#2a72d2" stroke-width="0.9"/>
<line x1="79.2" y1="260.5" x2="75.6" y2="260.9" stroke="#2a72d2" stroke-width="0.9"/>
<line x1="95.1" y1="230.8" x2="94.5" y2="234.7" stroke="#2a72d2" stroke-width="0.9"/>
<line x1="51.1" y1="231.8" x2="48.2" y2="234.9" stroke="#2a72d2" stroke-width="0.9"/>
<line x1="51.2" y1="264.4" x2="54.6" y2="266.1" stroke="#2a72d2" stroke-width="0.9"/>
<line x1="85.6" y1="241.5" x2="88.6" y2="244.0" stroke="#2a72d2" stroke-width="0.9"/>
<line x1="77.8" y1="272.1" x2="78.7" y2="274.8" stroke="#2a72d2" stroke-width="0.9"/>
<line x1="105.1" y1="266.7" x2="105.1" y2="270.0" stroke="#2a72d2" stroke-width="0.9"/>
<line x1="90.0" y1="268.8" x2="87.1" y2="269.6" stroke="#2a72d2" stroke-width="0.9"/>
<line x1="96.4" y1="266.3" x2="92.8" y2="268.1" stroke="#2a72d2" stroke-width="0.9"/>
<line x1="96.9" y1="279.4" x2="93.3" y2="279.9" stroke="#2a72d2" stroke-width="0.9"/>
<line x1="78.0" y1="268.9" x2="75.5" y2="270.7" stroke="#2a72d2" stroke-width="0.9"/>
<line x1="71.6" y1="235.6" x2="68.6" y2="238.9" stroke="#2a72d2" stroke-width="0.9"/>
<line x1="68.9" y1="236.9" x2="71.4" y2="238.7" stroke="#2a72d2" stroke-width="0.9"/>
<line x1="63.8" y1="284.2" x2="66.5" y2="284.7" stroke="#2a72d2" stroke-width="0.9"/>
<line x1="53.0" y1="265.2" x2="51.1" y2="266.8" stroke="#2a72d2" stroke-width="0.9"/>
<line x1="49.8" y1="254.1" x2="48.7" y2="258.2" stroke="#2a72d2" stroke-width="0.9"/>
<line x1="48.2" y1="233.4" x2="50.3" y2="234.8" stroke="#2a72d2" stroke-width="0.9"/>
<line x1="60.4" y1="269.3" x2="59.6" y2="271.8" stroke="#2a72d2" stroke-width="0.9"/>
<line x1="57.3" y1="243.6" x2="60.6" y2="245.6" stroke="#2a72d2" stroke-width="0.9"/>
<line x1="65.0" y1="259.3" x2="62.3" y2="261.1" stroke="#2a72d2" stroke-width="0.9"/>
<line x1="61.9" y1="279.4" x2="59.1" y2="280.1" stroke="#2a72d2" stroke-width="0.9"/>
<line x1="79.4" y1="283.5" x2="79.5" y2="286.0" stroke="#2a72d2" stroke-width="0.9"/>
<line x1="49.0" y1="282.9" x2="46.6" y2="284.6" stroke="#2a72d2" stroke-width="0.9"/>
<line x1="78.2" y1="257.4" x2="81.1" y2="260.8" stroke="#2a72d2" stroke-width="0.9"/>
<line x1="86.1" y1="241.0" x2="89.3" y2="241.1" stroke="#2a72d2" stroke-width="0.9"/>
<line x1="68.7" y1="274.0" x2="66.5" y2="276.8" stroke="#2a72d2" stroke-width="0.9"/>
<line x1="55.6" y1="236.3" x2="57.0" y2="238.5" stroke="#2a72d2" stroke-width="0.9"/>
<line x1="99.0" y1="257.5" x2="97.2" y2="261.5" stroke="#2a72d2" stroke-width="0.9"/>
<line x1="62.3" y1="258.5" x2="65.8" y2="260.3" stroke="#2a72d2" stroke-width="0.9"/>
<line x1="46.1" y1="275.5" x2="42.5" y2="277.3" stroke="#2a72d2" stroke-width="0.9"/>
<line x1="51.0" y1="242.9" x2="49.6" y2="244.7" stroke="#2a72d2" stroke-width="0.9"/>
<line x1="75.3" y1="254.7" x2="71.9" y2="255.1" stroke="#2a72d2" stroke-width="0.9"/>
<line x1="98.3" y1="244.9" x2="95.9" y2="246.8" stroke="#2a72d2" stroke-width="0.9"/>
<line x1="101.9" y1="232.4" x2="99.8" y2="233.7" stroke="#2a72d2" stroke-width="0.9"/>
<line x1="79.1" y1="258.0" x2="82.7" y2="260.0" stroke="#2a72d2" stroke-width="0.9"/>
<line x1="65.0" y1="245.3" x2="67.7" y2="246.0" stroke="#2a72d2" stroke-width="0.9"/>
<line x1="74.5" y1="269.2" x2="76.1" y2="272.6" stroke="#2a72d2" stroke-width="0.9"/>
<line x1="52.5" y1="250.3" x2="53.0" y2="254.6" stroke="#2a72d2" stroke-width="0.9"/>
<line x1="96.6" y1="265.6" x2="99.6" y2="265.7" stroke="#2a72d2" stroke-width="0.9"/>
<line x1="89.3" y1="241.0" x2="88.7" y2="244.1" stroke="#2a72d2" stroke-width="0.9"/>
<line x1="46.6" y1="285.5" x2="44.6" y2="287.0" stroke="#2a72d2" stroke-width="0.9"/>
<line x1="83.6" y1="244.1" x2="84.9" y2="247.2" stroke="#2a72d2" stroke-width="0.9"/>
<line x1="64.2" y1="246.9" x2="65.4" y2="250.4" stroke="#2a72d2" stroke-width="0.9"/>
<line x1="61.6" y1="238.8" x2="59.8" y2="240.9" stroke="#2a72d2" stroke-width="0.9"/>
<line x1="103.6" y1="260.2" x2="101.8" y2="262.4" stroke="#2a72d2" stroke-width="0.9"/>
<line x1="96.4" y1="232.4" x2="98.5" y2="233.4" stroke="#2a72d2" stroke-width="0.9"/>
<line x1="87.3" y1="268.8" x2="89.9" y2="270.4" stroke="#2a72d2" stroke-width="0.9"/>
<line x1="97.1" y1="262.0" x2="99.5" y2="262.7" stroke="#2a72d2" stroke-width="0.9"/>
<line x1="55.6" y1="234.3" x2="56.2" y2="236.4" stroke="#2a72d2" stroke-width="0.9"/>
<line x1="102.2" y1="252.2" x2="102.0" y2="255.8" stroke="#2a72d2" stroke-width="0.9"/>
<line x1="92.8" y1="275.4" x2="93.8" y2="278.1" stroke="#2a72d2" stroke-width="0.9"/>
<line x1="71.1" y1="227.9" x2="72.3" y2="231.5" stroke="#2a72d2" stroke-width="0.9"/>
<line x1="105.9" y1="273.6" x2="104.2" y2="276.7" stroke="#2a72d2" stroke-width="0.9"/>
<line x1="47.1" y1="246.5" x2="48.9" y2="249.7" stroke="#2a72d2" stroke-width="0.9"/>
<line x1="52.5" y1="249.3" x2="52.4" y2="253.2" stroke="#2a72d2" stroke-width="0.9"/>
<line x1="96.3" y1="263.1" x2="99.8" y2="264.9" stroke="#2a72d2" stroke-width="0.9"/>
<line x1="101.1" y1="259.3" x2="102.5" y2="262.3" stroke="#2a72d2" stroke-width="0.9"/>
<line x1="54.6" y1="269.1" x2="51.4" y2="269.2" stroke="#2a72d2" stroke-width="0.9"/>
<line x1="89.6" y1="276.3" x2="93.2" y2="278.8" stroke="#2a72d2" stroke-width="0.9"/>
<line x1="84.3" y1="238.7" x2="86.8" y2="239.4" stroke="#2a72d2" stroke-width="0.9"/>
<line x1="81.2" y1="268.1" x2="83.4" y2="271.8" stroke="#2a72d2" stroke-width="0.9"/>
<line x1="68.0" y1="254.3" x2="72.1" y2="256.0" stroke="#2a72d2" stroke-width="0.9"/>
<line x1="54.3" y1="280.3" x2="53.8" y2="283.7" stroke="#2a72d2" stroke-width="0.9"/>
<line x1="80.2" y1="242.6" x2="75.9" y2="243.9" stroke="#2a72d2" stroke-width="0.9"/>
<line x1="95.9" y1="262.5" x2="99.6" y2="264.0" stroke="#2a72d2" stroke-width="0.9"/>
<line x1="63.6" y1="279.9" x2="66.1" y2="282.3" stroke="#2a72d2" stroke-width="0.9"/>
<line x1="96.7" y1="237.9" x2="96.3" y2="240.1" stroke="#2a72d2" stroke-width="0.9"/>
<line x1="48.0" y1="237.6" x2="43.6" y2="237.8" stroke="#2a72d2" stroke-width="0.9"/>
<line x1="86.2" y1="245.2" x2="84.2" y2="248.5" stroke="#2a72d2" stroke-width="0.9"/>
<line x1="69.3" y1="261.9" x2="67.6" y2="263.1" stroke="#2a72d2" stroke-width="0.9"/>
<line x1="58.2" y1="254.6" x2="60.8" y2="255.9" stroke="#2a72d2" stroke-width="0.9"/>
<line x1="80.7" y1="237.2" x2="80.6" y2="239.9" stroke="#2a72d2" stroke-width="0.9"/>
<line x1="80.7" y1="246.6" x2="79.7" y2="248.5" stroke="#2a72d2" stroke-width="0.9"/>
<line x1="86.9" y1="235.5" x2="83.5" y2="236.0" stroke="#2a72d2" stroke-width="0.9"/>
<line x1="74.7" y1="251.3" x2="73.3" y2="254.7" stroke="#2a72d2" stroke-width="0.9"/>
<line x1="92.2" y1="271.4" x2="92.4" y2="275.8" stroke="#2a72d2" stroke-width="0.9"/>
<line x1="97.1" y1="277.4" x2="98.0" y2="280.4" stroke="#2a72d2" stroke-width="0.9"/>
<line x1="80.5" y1="280.4" x2="80.3" y2="283.7" stroke="#2a72d2" stroke-width="0.9"/>
<line x1="72.4" y1="280.4" x2="73.5" y2="282.2" stroke="#2a72d2" stroke-width="0.9"/>
<line x1="90.3" y1="280.1" x2="87.9" y2="282.7" stroke="#2a72d2" stroke-width="0.9"/>
<line x1="91.9" y1="245.0" x2="91.2" y2="247.1" stroke="#2a72d2" stroke-width="0.9"/>
<line x1="53.6" y1="253.4" x2="53.6" y2="256.4" stroke="#2a72d2" stroke-width="0.9"/>
<line x1="49.2" y1="268.0" x2="49.0" y2="270.6" stroke="#2a72d2" stroke-width="0.9"/>
<line x1="64.7" y1="250.3" x2="66.3" y2="251.8" stroke="#2a72d2" stroke-width="0.9"/>
<line x1="101.6" y1="284.0" x2="99.5" y2="287.6" stroke="#2a72d2" stroke-width="0.9"/>
<line x1="71.7" y1="274.5" x2="74.7" y2="277.0" stroke="#2a72d2" stroke-width="0.9"/>
<line x1="80.6" y1="280.3" x2="84.4" y2="281.5" stroke="#2a72d2" stroke-width="0.9"/>
<line x1="53.6" y1="258.7" x2="51.6" y2="259.0" stroke="#2a72d2" stroke-width="0.9"/>
<line x1="60.9" y1="244.7" x2="62.0" y2="246.5" stroke="#2a72d2" stroke-width="0.9"/>
<line x1="100.6" y1="275.1" x2="101.5" y2="277.9" stroke="#2a72d2" stroke-width="0.9"/>
<line x1="81.7" y1="229.7" x2="85.9" y2="230.1" stroke="#2a72d2" stroke-width="0.9"/>
<line x1="64.8" y1="256.4" x2="60.4" y2="257.3" stroke="#2a72d2" stroke-width="0.9"/>
<line x1="74.8" y1="239.2" x2="77.4" y2="242.6" stroke="#2a72d2" stroke-width="0.9"/>
<line x1="100.7" y1="238.5" x2="98.2" y2="239.9" stroke="#2a72d2" stroke-width="0.9"/>
<line x1="74.8" y1="237.1" x2="70.7" y2="238.8" stroke="#2a72d2" stroke-width="0.9"/>
<line x1="58.3" y1="264.3" x2="61.8" y2="266.7" stroke="#2a72d2" stroke-width="0.9"/>
<line x1="49.1" y1="233.3" x2="47.2" y2="235.4" stroke="#2a72d2" stroke-width="0.9"/>
<line x1="100.9" y1="278.3" x2="99.5" y2="280.1" stroke="#2a72d2" stroke-width="0.9"/>
<line x1="88.5" y1="282.3" x2="88.8" y2="284.5" stroke="#2a72d2" stroke-width="0.9"/>
<line x1="59.6" y1="245.1" x2="58.1" y2="247.1" stroke="#2a72d2" stroke-width="0.9"/>
<line x1="57.0" y1="240.9" x2="55.1" y2="244.3" stroke="#2a72d2" stroke-width="0.9"/>
<line x1="68.7" y1="266.1" x2="65.5" y2="267.3" stroke="#2a72d2" stroke-width="0.9"/>
<line x1="60.0" y1="244.8" x2="56.4" y2="245.6" stroke="#2a72d2" stroke-width="0.9"/>
<line x1="62.9" y1="264.8" x2="67.2" y2="266.0" stroke="#2a72d2" stroke-width="0.9"/>
<line x1="72.9" y1="258.2" x2="72.7" y2="260.3" stroke="#2a72d2" stroke-width="0.9"/>
<line x1="82.6" y1="243.8" x2="85.4" y2="246.6" stroke="#2a72d2" stroke-width="0.9"/>
<line x1="51.3" y1="243.8" x2="49.4" y2="245.6" stroke="#2a72d2" stroke-width="0.9"/>
<line x1="63.0" y1="259.3" x2="66.6" y2="261.7" stroke="#2a72d2" stroke-width="0.9"/>
<line x1="106.3" y1="229.0" x2="106.7" y2="232.8" stroke="#2a72d2" stroke-width="0.9"/>
<line x1="69.5" y1="281.8" x2="69.5" y2="284.3" stroke="#2a72d2" stroke-width="0.9"/>
<line x1="79.9" y1="265.1" x2="81.5" y2="268.3" stroke="#2a72d2" stroke-width="0.9"/>
<line x1="93.8" y1="257.5" x2="93.7" y2="261.6" stroke="#2a72d2" stroke-width="0.9"/>
<line x1="87.7" y1="257.7" x2="85.3" y2="258.1" stroke="#2a72d2" stroke-width="0.9"/>
<line x1="93.6" y1="236.7" x2="92.7" y2="239.2" stroke="#2a72d2" stroke-width="0.9"/>
<line x1="72.9" y1="272.6" x2="69.7" y2="275.1" stroke="#2a72d2" stroke-width="0.9"/>
<line x1="60.4" y1="255.9" x2="63.0" y2="258.1" stroke="#2a72d2" stroke-width="0.9"/>
<line x1="76.4" y1="229.1" x2="75.3" y2="232.7" stroke="#2a72d2" stroke-width="0.9"/>
<line x1="80.9" y1="278.5" x2="82.9" y2="279.8" stroke="#2a72d2" stroke-width="0.9"/>
<line x1="47.1" y1="256.3" x2="47.7" y2="259.3" stroke="#2a72d2" stroke-width="0.9"/>
<line x1="62.0" y1="274.1" x2="66.2" y2="275.1" stroke="#2a72d2" stroke-width="0.9"/>
<line x1="80.7" y1="259.1" x2="78.6" y2="260.6" stroke="#2a72d2" stroke-width="0.9"/>
<line x1="54.9" y1="245.3" x2="57.7" y2="245.7" stroke="#2a72d2" stroke-width="0.9"/>
<line x1="83.9" y1="258.0" x2="86.2" y2="260.6" stroke="#2a72d2" stroke-width="0.9"/>
<line x1="51.4" y1="275.4" x2="53.7" y2="276.8" stroke="#2a72d2" stroke-width="0.9"/>
<line x1="55.7" y1="267.7" x2="52.3" y2="269.8" stroke="#2a72d2" stroke-width="0.9"/>
<polygon points="50.56,248.72 52.23,252.06 48.90,253.73 47.23,250.40" fill="#f9dc78" stroke="#f9dc78" stroke-width="0.1"/>
<polygon points="106.60,232.27 106.69,236.78 102.18,236.88 102.09,232.37" fill="#f4cc5c" stroke="#f4cc5c" stroke-width="0.1"/>
<polygon points="52.59,251.61 57.08,251.63 57.05,256.12 52.56,256.10" fill="#f6d466" stroke="#f6d466" stroke-width="0.1"/>
<polygon points="70.30,255.87 73.14,257.31 71.70,260.15 68.86,258.71" fill="#f4cc5c" stroke="#f4cc5c" stroke-width="0.1"/>
<polygon points="71.00,229.54 73.87,230.62 72.78,233.49 69.91,232.41" fill="#f4cc5c" stroke="#f4cc5c" stroke-width="0.1"/>
<polygon points="59.95,257.60 63.41,258.07 62.94,261.52 59.49,261.05" fill="#fbe28a" stroke="#fbe28a" stroke-width="0.1"/>
<polygon points="58.38,242.09 62.99,243.74 61.34,248.35 56.73,246.70" fill="#f4cc5c" stroke="#f4cc5c" stroke-width="0.1"/>
<polygon points="56.16,258.02 59.29,261.90 55.41,265.04 52.28,261.16" fill="#efc656" stroke="#efc656" stroke-width="0.1"/>
<polygon points="101.43,275.76 105.05,278.98 101.83,282.60 98.21,279.38" fill="#f9dc78" stroke="#f9dc78" stroke-width="0.1"/>
<polygon points="68.82,274.34 72.37,275.59 71.12,279.14 67.57,277.89" fill="#f6d466" stroke="#f6d466" stroke-width="0.1"/>
<polygon points="67.10,234.94 70.09,237.74 67.28,240.73 64.30,237.92" fill="#f9dc78" stroke="#f9dc78" stroke-width="0.1"/>
<polygon points="70.15,258.85 73.60,261.77 70.68,265.22 67.23,262.30" fill="#fbe28a" stroke="#fbe28a" stroke-width="0.1"/>
<polygon points="106.80,263.74 109.93,267.28 106.38,270.41 103.26,266.86" fill="#f9dc78" stroke="#f9dc78" stroke-width="0.1"/>
<polygon points="72.04,227.32 74.04,230.26 71.10,232.25 69.10,229.31" fill="#efc656" stroke="#efc656" stroke-width="0.1"/>
<polygon points="79.41,268.52 79.89,272.51 75.90,272.99 75.41,269.00" fill="#f4cc5c" stroke="#f4cc5c" stroke-width="0.1"/>
<polygon points="90.55,240.38 92.09,243.77 88.70,245.31 87.16,241.93" fill="#f9dc78" stroke="#f9dc78" stroke-width="0.1"/>
<polygon points="91.70,233.29 95.18,233.40 95.07,236.88 91.59,236.77" fill="#f6d466" stroke="#f6d466" stroke-width="0.1"/>
<polygon points="65.04,247.53 67.80,249.07 66.25,251.84 63.49,250.29" fill="#fbe28a" stroke="#fbe28a" stroke-width="0.1"/>
<polygon points="93.38,255.47 95.18,258.01 92.64,259.81 90.85,257.27" fill="#fbe28a" stroke="#fbe28a" stroke-width="0.1"/>
<polygon points="73.88,235.96 77.91,236.17 77.70,240.19 73.68,239.99" fill="#f9dc78" stroke="#f9dc78" stroke-width="0.1"/>
<polygon points="65.13,249.13 67.94,252.10 64.97,254.91 62.16,251.94" fill="#f9dc78" stroke="#f9dc78" stroke-width="0.1"/>
<polygon points="77.98,243.17 81.78,244.07 80.89,247.86 77.09,246.97" fill="#fbe28a" stroke="#fbe28a" stroke-width="0.1"/>
<polygon points="56.80,240.91 61.13,241.85 60.18,246.17 55.86,245.23" fill="#fbe28a" stroke="#fbe28a" stroke-width="0.1"/>
<polygon points="76.98,245.78 79.73,247.43 78.07,250.18 75.33,248.53" fill="#efc656" stroke="#efc656" stroke-width="0.1"/>
<polygon points="59.38,227.26 61.31,229.62 58.94,231.55 57.02,229.18" fill="#fbe28a" stroke="#fbe28a" stroke-width="0.1"/>
<polygon points="96.89,282.55 97.35,286.12 93.78,286.57 93.32,283.00" fill="#f6d466" stroke="#f6d466" stroke-width="0.1"/>
<polygon points="57.95,264.86 61.99,266.42 60.43,270.47 56.39,268.90" fill="#efc656" stroke="#efc656" stroke-width="0.1"/>
<polygon points="84.55,229.58 87.31,232.27 84.61,235.03 81.86,232.33" fill="#fbe28a" stroke="#fbe28a" stroke-width="0.1"/>
<polygon points="74.82,279.62 78.17,280.84 76.95,284.20 73.60,282.98" fill="#efc656" stroke="#efc656" stroke-width="0.1"/>
<polygon points="103.28,235.81 105.56,239.74 101.63,242.01 99.35,238.09" fill="#efc656" stroke="#efc656" stroke-width="0.1"/>
<polygon points="61.83,230.18 62.94,233.69 59.43,234.80 58.32,231.29" fill="#fbe28a" stroke="#fbe28a" stroke-width="0.1"/>
<polygon points="76.21,239.00 78.34,243.19 74.15,245.33 72.01,241.13" fill="#efc656" stroke="#efc656" stroke-width="0.1"/>
<polygon points="49.00,247.99 49.51,251.68 45.81,252.19 45.30,248.50" fill="#f6d466" stroke="#f6d466" stroke-width="0.1"/>
<polygon points="62.43,245.94 65.91,249.09 62.75,252.57 59.28,249.42" fill="#efc656" stroke="#efc656" stroke-width="0.1"/>
<polygon points="65.27,239.88 67.93,241.36 66.45,244.02 63.79,242.54" fill="#efc656" stroke="#efc656" stroke-width="0.1"/>
<polygon points="69.50,241.35 71.96,245.27 68.04,247.73 65.58,243.82" fill="#f9dc78" stroke="#f9dc78" stroke-width="0.1"/>
<polygon points="69.85,243.78 72.82,247.55 69.04,250.51 66.08,246.74" fill="#f6d466" stroke="#f6d466" stroke-width="0.1"/>
<polygon points="103.69,269.52 106.49,272.72 103.28,275.52 100.48,272.31" fill="#f4cc5c" stroke="#f4cc5c" stroke-width="0.1"/>
<polygon points="84.63,228.92 85.22,232.00 82.14,232.59 81.55,229.51" fill="#fbe28a" stroke="#fbe28a" stroke-width="0.1"/>
<polygon points="69.91,278.58 71.38,281.29 68.68,282.75 67.21,280.05" fill="#f9dc78" stroke="#f9dc78" stroke-width="0.1"/>
<polygon points="61.19,253.83 65.02,254.75 64.10,258.59 60.27,257.67" fill="#f6d466" stroke="#f6d466" stroke-width="0.1"/>
<polygon points="57.84,237.40 60.82,240.58 57.64,243.56 54.66,240.38" fill="#f9dc78" stroke="#f9dc78" stroke-width="0.1"/>
<polygon points="102.49,282.68 104.64,284.79 102.54,286.93 100.39,284.83" fill="#f4cc5c" stroke="#f4cc5c" stroke-width="0.1"/>
<polygon points="87.37,256.87 88.13,261.04 83.96,261.81 83.19,257.63" fill="#f4cc5c" stroke="#f4cc5c" stroke-width="0.1"/>
<polygon points="89.58,271.95 90.21,275.42 86.73,276.05 86.11,272.58" fill="#f6d466" stroke="#f6d466" stroke-width="0.1"/>
<polygon points="67.18,266.92 67.43,271.31 63.05,271.56 62.80,267.17" fill="#f9dc78" stroke="#f9dc78" stroke-width="0.1"/>
<polygon points="97.67,233.75 98.95,237.79 94.90,239.07 93.63,235.03" fill="#fbe28a" stroke="#fbe28a" stroke-width="0.1"/>
<polygon points="63.91,248.83 66.55,251.47 63.92,254.11 61.27,251.48" fill="#f4cc5c" stroke="#f4cc5c" stroke-width="0.1"/>
<polygon points="86.56,245.47 88.33,249.51 84.28,251.28 82.52,247.23" fill="#f4cc5c" stroke="#f4cc5c" stroke-width="0.1"/>
<polygon points="97.65,282.67 102.22,283.49 101.40,288.05 96.84,287.23" fill="#efc656" stroke="#efc656" stroke-width="0.1"/>
<polygon points="74.08,269.80 76.30,273.09 73.01,275.30 70.80,272.02" fill="#f9dc78" stroke="#f9dc78" stroke-width="0.1"/>
<polygon points="71.21,252.83 73.78,255.47 71.14,258.04 68.57,255.41" fill="#fbe28a" stroke="#fbe28a" stroke-width="0.1"/>
<polygon points="93.94,247.08 97.65,249.50 95.23,253.21 91.52,250.79" fill="#efc656" stroke="#efc656" stroke-width="0.1"/>
<polygon points="89.36,234.97 90.51,239.54 85.94,240.69 84.79,236.12" fill="#f9dc78" stroke="#f9dc78" stroke-width="0.1"/>
<polygon points="97.06,257.82 99.21,261.00 96.02,263.15 93.88,259.96" fill="#f9dc78" stroke="#f9dc78" stroke-width="0.1"/>
<polygon points="97.13,272.02 98.95,274.71 96.26,276.53 94.43,273.84" fill="#fbe28a" stroke="#fbe28a" stroke-width="0.1"/>
<polygon points="64.28,262.00 67.28,265.94 63.34,268.93 60.34,265.00" fill="#fbe28a" stroke="#fbe28a" stroke-width="0.1"/>
<polygon points="103.11,281.96 105.69,283.96 103.69,286.55 101.11,284.55" fill="#efc656" stroke="#efc656" stroke-width="0.1"/>
<polygon points="82.28,247.79 87.13,248.17 86.76,253.02 81.91,252.65" fill="#f9dc78" stroke="#f9dc78" stroke-width="0.1"/>
<polygon points="89.02,231.86 91.64,233.50 90.00,236.11 87.38,234.47" fill="#efc656" stroke="#efc656" stroke-width="0.1"/>
<polygon points="80.19,271.96 81.18,275.64 77.50,276.63 76.51,272.95" fill="#f6d466" stroke="#f6d466" stroke-width="0.1"/>
<polygon points="99.20,235.13 100.16,238.11 97.18,239.08 96.21,236.09" fill="#fbe28a" stroke="#fbe28a" stroke-width="0.1"/>
<polygon points="96.78,241.09 99.81,243.36 97.54,246.39 94.51,244.12" fill="#f4cc5c" stroke="#f4cc5c" stroke-width="0.1"/>
<polygon points="54.88,257.94 57.73,261.23 54.44,264.07 51.59,260.79" fill="#f9dc78" stroke="#f9dc78" stroke-width="0.1"/>
<polygon points="95.02,233.31 97.17,235.88 94.60,238.03 92.45,235.46" fill="#f6d466" stroke="#f6d466" stroke-width="0.1"/>
<polygon points="99.95,276.32 103.33,278.20 101.44,281.58 98.07,279.70" fill="#f9dc78" stroke="#f9dc78" stroke-width="0.1"/>
<polygon points="46.37,258.21 49.35,259.58 47.98,262.57 44.99,261.20" fill="#fbe28a" stroke="#fbe28a" stroke-width="0.1"/>
<polygon points="60.13,252.82 62.51,255.69 59.64,258.08 57.25,255.21" fill="#efc656" stroke="#efc656" stroke-width="0.1"/>
<polygon points="53.00,225.15 57.52,225.17 57.49,229.70 52.97,229.67" fill="#f6d466" stroke="#f6d466" stroke-width="0.1"/>
<polygon points="66.43,232.01 69.75,235.16 66.59,238.48 63.28,235.32" fill="#fbe28a" stroke="#fbe28a" stroke-width="0.1"/>
<polygon points="70.13,272.20 73.71,273.45 72.45,277.03 68.87,275.77" fill="#f6d466" stroke="#f6d466" stroke-width="0.1"/>
<polygon points="85.20,273.89 85.53,277.38 82.04,277.71 81.71,274.22" fill="#f9dc78" stroke="#f9dc78" stroke-width="0.1"/>
<polygon points="97.40,283.26 101.14,284.32 100.08,288.06 96.34,287.00" fill="#f6d466" stroke="#f6d466" stroke-width="0.1"/>
<polygon points="46.83,234.82 49.78,236.16 48.44,239.10 45.49,237.77" fill="#f6d466" stroke="#f6d466" stroke-width="0.1"/>
<polygon points="45.93,258.20 49.05,258.25 49.00,261.38 45.88,261.32" fill="#fbe28a" stroke="#fbe28a" stroke-width="0.1"/>
<polygon points="58.05,281.60 60.81,282.83 59.59,285.59 56.83,284.37" fill="#f4cc5c" stroke="#f4cc5c" stroke-width="0.1"/>
<polygon points="62.24,279.04 63.46,282.84 59.66,284.05 58.44,280.25" fill="#efc656" stroke="#efc656" stroke-width="0.1"/>
<polygon points="98.71,269.57 99.21,274.52 94.26,275.02 93.76,270.07" fill="#f6d466" stroke="#f6d466" stroke-width="0.1"/>
<polygon points="73.57,274.58 77.38,274.72 77.24,278.53 73.43,278.39" fill="#f4cc5c" stroke="#f4cc5c" stroke-width="0.1"/>
<polygon points="81.21,237.74 83.86,240.43 81.16,243.08 78.52,240.38" fill="#efc656" stroke="#efc656" stroke-width="0.1"/>
<polygon points="62.20,282.62 65.82,284.86 63.57,288.47 59.96,286.23" fill="#fbe28a" stroke="#fbe28a" stroke-width="0.1"/>
<polygon points="62.10,278.00 65.43,279.47 63.96,282.81 60.63,281.33" fill="#f6d466" stroke="#f6d466" stroke-width="0.1"/>
<polygon points="59.19,235.44 61.21,237.78 58.87,239.81 56.85,237.47" fill="#f9dc78" stroke="#f9dc78" stroke-width="0.1"/>
<polygon points="87.04,235.23 89.72,237.01 87.94,239.69 85.27,237.91" fill="#f9dc78" stroke="#f9dc78" stroke-width="0.1"/>
<polygon points="56.72,225.64 59.78,227.89 57.53,230.95 54.47,228.70" fill="#f6d466" stroke="#f6d466" stroke-width="0.1"/>
<polygon points="63.24,256.16 68.14,256.32 67.98,261.22 63.08,261.06" fill="#f9dc78" stroke="#f9dc78" stroke-width="0.1"/>
<polygon points="58.70,228.79 58.78,232.97 54.60,233.05 54.52,228.88" fill="#f4cc5c" stroke="#f4cc5c" stroke-width="0.1"/>
<polygon points="73.27,281.60 74.44,284.83 71.20,286.00 70.04,282.76" fill="#fbe28a" stroke="#fbe28a" stroke-width="0.1"/>
<polygon points="101.59,273.25 101.85,276.38 98.72,276.64 98.46,273.51" fill="#fbe28a" stroke="#fbe28a" stroke-width="0.1"/>
<polygon points="64.28,235.59 67.89,236.44 67.03,240.06 63.42,239.20" fill="#f6d466" stroke="#f6d466" stroke-width="0.1"/>
<polygon points="85.27,246.33 87.70,249.86 84.17,252.29 81.74,248.76" fill="#f9dc78" stroke="#f9dc78" stroke-width="0.1"/>
<polygon points="67.04,249.80 70.15,252.95 67.00,256.06 63.89,252.90" fill="#fbe28a" stroke="#fbe28a" stroke-width="0.1"/>
<polygon points="80.30,230.45 83.92,233.40 80.96,237.02 77.34,234.06" fill="#fbe28a" stroke="#fbe28a" stroke-width="0.1"/>
<polygon points="74.95,273.56 77.30,276.81 74.06,279.15 71.71,275.91" fill="#fbe28a" stroke="#fbe28a" stroke-width="0.1"/>
<polygon points="80.76,255.24 83.10,257.22 81.12,259.56 78.78,257.58" fill="#fbe28a" stroke="#fbe28a" stroke-width="0.1"/>
<polygon points="82.39,258.65 85.63,262.28 82.00,265.51 78.76,261.88" fill="#f9dc78" stroke="#f9dc78" stroke-width="0.1"/>
<polygon points="67.11,239.31 68.81,243.19 64.93,244.90 63.22,241.01" fill="#f9dc78" stroke="#f9dc78" stroke-width="0.1"/>
<polygon points="107.65,247.64 109.44,252.02 105.06,253.81 103.27,249.43" fill="#f9dc78" stroke="#f9dc78" stroke-width="0.1"/>
<polygon points="101.92,231.48 102.81,234.73 99.56,235.63 98.66,232.37" fill="#f9dc78" stroke="#f9dc78" stroke-width="0.1"/>
<polygon points="92.98,254.08 97.76,255.51 96.33,260.29 91.55,258.86" fill="#f6d466" stroke="#f6d466" stroke-width="0.1"/>
<polygon points="48.13,244.36 51.18,247.00 48.54,250.05 45.49,247.41" fill="#efc656" stroke="#efc656" stroke-width="0.1"/>
<polygon points="80.31,276.27 80.51,279.66 77.12,279.86 76.92,276.48" fill="#efc656" stroke="#efc656" stroke-width="0.1"/>
<polygon points="62.08,231.05 62.83,234.86 59.02,235.61 58.27,231.80" fill="#fbe28a" stroke="#fbe28a" stroke-width="0.1"/>
<polygon points="51.89,254.68 52.02,257.79 48.91,257.92 48.78,254.81" fill="#f4cc5c" stroke="#f4cc5c" stroke-width="0.1"/>
<polygon points="48.09,279.91 52.65,280.64 51.93,285.20 47.36,284.48" fill="#f9dc78" stroke="#f9dc78" stroke-width="0.1"/>
<polygon points="46.35,244.64 51.00,245.51 50.14,250.16 45.49,249.29" fill="#efc656" stroke="#efc656" stroke-width="0.1"/>
<polygon points="56.90,246.61 60.40,249.75 57.26,253.25 53.77,250.11" fill="#f4cc5c" stroke="#f4cc5c" stroke-width="0.1"/>
<polygon points="76.45,229.23 78.82,232.82 75.23,235.19 72.86,231.60" fill="#f4cc5c" stroke="#f4cc5c" stroke-width="0.1"/>
<polygon points="99.01,267.58 101.83,269.48 99.93,272.29 97.11,270.39" fill="#fbe28a" stroke="#fbe28a" stroke-width="0.1"/>
<polygon points="96.63,265.08 99.02,269.11 94.99,271.51 92.60,267.48" fill="#efc656" stroke="#efc656" stroke-width="0.1"/>
<polygon points="59.68,236.31 61.78,240.33 57.76,242.42 55.67,238.40" fill="#f9dc78" stroke="#f9dc78" stroke-width="0.1"/>
<polygon points="74.85,232.37 76.71,235.01 74.06,236.87 72.20,234.22" fill="#efc656" stroke="#efc656" stroke-width="0.1"/>
<polygon points="69.09,235.29 71.10,239.85 66.53,241.86 64.52,237.29" fill="#f9dc78" stroke="#f9dc78" stroke-width="0.1"/>
<polygon points="66.30,243.20 70.09,243.62 69.66,247.42 65.87,246.99" fill="#f9dc78" stroke="#f9dc78" stroke-width="0.1"/>
<polygon points="62.01,246.12 65.20,248.90 62.42,252.08 59.23,249.30" fill="#efc656" stroke="#efc656" stroke-width="0.1"/>
<polygon points="75.84,280.17 79.28,281.50 77.95,284.95 74.51,283.61" fill="#fbe28a" stroke="#fbe28a" stroke-width="0.1"/>
<polygon points="83.52,241.26 83.88,245.99 79.15,246.35 78.79,241.62" fill="#efc656" stroke="#efc656" stroke-width="0.1"/>
<polygon points="50.34,262.85 53.17,264.82 51.20,267.66 48.37,265.68" fill="#fbe28a" stroke="#fbe28a" stroke-width="0.1"/>
<polygon points="90.77,259.78 94.04,261.90 91.91,265.17 88.65,263.05" fill="#f6d466" stroke="#f6d466" stroke-width="0.1"/>
<polygon points="65.36,258.58 69.22,260.50 67.31,264.37 63.44,262.45" fill="#efc656" stroke="#efc656" stroke-width="0.1"/>
<polygon points="87.91,264.23 90.81,266.17 88.87,269.07 85.97,267.13" fill="#fbe28a" stroke="#fbe28a" stroke-width="0.1"/>
<polygon points="81.53,275.52 84.78,277.45 82.85,280.70 79.60,278.77" fill="#efc656" stroke="#efc656" stroke-width="0.1"/>
<polygon points="96.78,274.30 98.92,277.89 95.33,280.03 93.18,276.44" fill="#f4cc5c" stroke="#f4cc5c" stroke-width="0.1"/>
<polygon points="73.01,236.17 76.82,238.71 74.28,242.52 70.46,239.98" fill="#f6d466" stroke="#f6d466" stroke-width="0.1"/>
<polygon points="90.79,263.96 92.62,267.16 89.43,269.00 87.59,265.80" fill="#f6d466" stroke="#f6d466" stroke-width="0.1"/>
</g>
<polygon points="49.22,229.65 50.84,232.72 47.78,234.34 46.16,231.27" fill="#ecc250" stroke="#ecc250" stroke-width="0.1"/>
<polygon points="50.88,229.53 55.08,229.72 54.89,233.92 50.69,233.73" fill="#ecc250" stroke="#ecc250" stroke-width="0.1"/>
<polygon points="58.87,228.34 59.47,232.14 55.67,232.73 55.07,228.94" fill="#f4cf62" stroke="#f4cf62" stroke-width="0.1"/>
<polygon points="61.11,226.59 64.52,228.91 62.20,232.33 58.79,230.00" fill="#f7d874" stroke="#f7d874" stroke-width="0.1"/>
<polygon points="65.12,227.10 67.96,228.11 66.96,230.95 64.11,229.94" fill="#f4cf62" stroke="#f4cf62" stroke-width="0.1"/>
<polygon points="71.44,226.99 72.45,230.04 69.40,231.04 68.40,228.00" fill="#f7d874" stroke="#f7d874" stroke-width="0.1"/>
<polygon points="73.43,226.52 76.93,227.26 76.19,230.76 72.69,230.02" fill="#ecc250" stroke="#ecc250" stroke-width="0.1"/>
<polygon points="78.19,227.89 81.28,228.97 80.19,232.06 77.11,230.97" fill="#f4cf62" stroke="#f4cf62" stroke-width="0.1"/>
<polygon points="85.16,228.35 85.36,231.72 81.99,231.93 81.79,228.56" fill="#f4cf62" stroke="#f4cf62" stroke-width="0.1"/>
<polygon points="86.67,227.36 90.33,228.43 89.25,232.09 85.60,231.02" fill="#ecc250" stroke="#ecc250" stroke-width="0.1"/>
<polygon points="94.09,228.37 94.80,232.57 90.60,233.28 89.89,229.08" fill="#f4cf62" stroke="#f4cf62" stroke-width="0.1"/>
<polygon points="98.31,228.33 98.67,231.85 95.15,232.21 94.79,228.69" fill="#f7d874" stroke="#f7d874" stroke-width="0.1"/>
<polygon points="101.50,228.43 103.48,231.19 100.73,233.17 98.75,230.41" fill="#f7d874" stroke="#f7d874" stroke-width="0.1"/>
<polygon points="103.75,228.85 107.65,229.26 107.25,233.16 103.35,232.75" fill="#ecc250" stroke="#ecc250" stroke-width="0.1"/>
<polygon points="48.42,237.30 51.20,239.92 48.58,242.70 45.80,240.08" fill="#f7d874" stroke="#f7d874" stroke-width="0.1"/>
<polygon points="48.10,246.75 50.45,248.90 48.30,251.25 45.95,249.10" fill="#f7d874" stroke="#f7d874" stroke-width="0.1"/>
<polygon points="50.47,256.41 50.59,259.47 47.53,259.59 47.41,256.53" fill="#f4cf62" stroke="#f4cf62" stroke-width="0.1"/>
<polygon points="104.98,235.28 108.32,237.38 106.22,240.72 102.88,238.62" fill="#f4cf62" stroke="#f4cf62" stroke-width="0.1"/>
<polygon points="106.73,245.08 107.72,247.93 104.87,248.92 103.88,246.07" fill="#f7d874" stroke="#f7d874" stroke-width="0.1"/>
<polygon points="106.22,253.95 107.05,257.22 103.78,258.05 102.95,254.78" fill="#f7d874" stroke="#f7d874" stroke-width="0.1"/>
<polygon points="101.96,264.11 104.89,264.96 104.04,267.89 101.11,267.04" fill="#f7d874" stroke="#f7d874" stroke-width="0.1"/>
<circle cx="55.30" cy="344.70" r="1.8" fill="#2b8ef5"/>
<circle cx="76.30" cy="335.30" r="1.8" fill="#2b8ef5"/>
<circle cx="90.80" cy="327.10" r="1.8" fill="#2b8ef5"/>
<circle cx="102.80" cy="319.90" r="1.8" fill="#2b8ef5"/>
<circle cx="112.50" cy="313.60" r="1.8" fill="#2b8ef5"/>
<circle cx="120.90" cy="308.50" r="1.8" fill="#2b8ef5"/>
<circle cx="128.10" cy="304.30" r="1.8" fill="#2b8ef5"/>
<circle cx="133.50" cy="300.50" r="1.8" fill="#2b8ef5"/>
<circle cx="138.60" cy="297.40" r="1.8" fill="#2b8ef5"/>
<circle cx="143.00" cy="294.60" r="1.8" fill="#2b8ef5"/>
<circle cx="147.00" cy="292.10" r="1.8" fill="#2b8ef5"/>
<circle cx="150.40" cy="290.00" r="1.8" fill="#2b8ef5"/>
<circle cx="160.90" cy="284.30" r="1.8" fill="#2b8ef5"/>
<circle cx="169.30" cy="279.10" r="1.8" fill="#2b8ef5"/>
<circle cx="174.40" cy="275.30" r="1.8" fill="#2b8ef5"/>
<circle cx="179.50" cy="270.15" r="1.8" fill="#2b8ef5"/>
<circle cx="184.00" cy="267.95" r="1.8" fill="#2b8ef5"/>
<circle cx="188.70" cy="264.71" r="1.8" fill="#2b8ef5"/>
<circle cx="192.60" cy="261.92" r="1.8" fill="#2b8ef5"/>
<circle cx="196.00" cy="259.49" r="1.8" fill="#2b8ef5"/>
<circle cx="199.20" cy="257.20" r="1.8" fill="#2b8ef5"/>
<circle cx="202.00" cy="255.40" r="1.8" fill="#2b8ef5"/>
<circle cx="204.50" cy="253.77" r="1.8" fill="#2b8ef5"/>
<circle cx="206.60" cy="252.37" r="1.8" fill="#2b8ef5"/>
<circle cx="208.70" cy="250.94" r="1.8" fill="#2b8ef5"/>
<circle cx="210.80" cy="249.49" r="1.8" fill="#2b8ef5"/>
<circle cx="212.90" cy="247.98" r="1.8" fill="#2b8ef5"/>
<circle cx="215.00" cy="246.40" r="1.8" fill="#2b8ef5"/>
<polygon points="63.50,342.50 64.16,344.09 65.88,344.23 64.57,345.35 64.97,347.02 63.50,346.12 62.03,347.02 62.43,345.35 61.12,344.23 62.84,344.09" fill="#cfc300"/>
<polygon points="86.40,334.20 87.06,335.79 88.78,335.93 87.47,337.05 87.87,338.72 86.40,337.82 84.93,338.72 85.33,337.05 84.02,335.93 85.74,335.79" fill="#cfc300"/>
<polygon points="100.60,327.30 101.26,328.89 102.98,329.03 101.67,330.15 102.07,331.82 100.60,330.93 99.13,331.82 99.53,330.15 98.22,329.03 99.94,328.89" fill="#cfc300"/>
<polygon points="110.80,320.80 111.46,322.39 113.18,322.53 111.87,323.65 112.27,325.32 110.80,324.43 109.33,325.32 109.73,323.65 108.42,322.53 110.14,322.39" fill="#cfc300"/>
<polygon points="118.80,315.20 119.46,316.79 121.18,316.93 119.87,318.05 120.27,319.72 118.80,318.82 117.33,319.72 117.73,318.05 116.42,316.93 118.14,316.79" fill="#cfc300"/>
<polygon points="125.10,310.20 125.76,311.79 127.48,311.93 126.17,313.05 126.57,314.72 125.10,313.82 123.63,314.72 124.03,313.05 122.72,311.93 124.44,311.79" fill="#cfc300"/>
<polygon points="130.80,305.40 131.46,306.99 133.18,307.13 131.87,308.25 132.27,309.92 130.80,309.02 129.33,309.92 129.73,308.25 128.42,307.13 130.14,306.99" fill="#cfc300"/>
<polygon points="136.10,301.60 136.76,303.19 138.48,303.33 137.17,304.45 137.57,306.12 136.10,305.23 134.63,306.12 135.03,304.45 133.72,303.33 135.44,303.19" fill="#cfc300"/>
<polygon points="140.30,298.00 140.96,299.59 142.68,299.73 141.37,300.85 141.77,302.52 140.30,301.62 138.83,302.52 139.23,300.85 137.92,299.73 139.64,299.59" fill="#cfc300"/>
<polygon points="144.10,294.20 144.76,295.79 146.48,295.93 145.17,297.05 145.57,298.72 144.10,297.82 142.63,298.72 143.03,297.05 141.72,295.93 143.44,295.79" fill="#cfc300"/>
<polygon points="147.60,291.10 148.26,292.69 149.98,292.83 148.67,293.95 149.07,295.62 147.60,294.73 146.13,295.62 146.53,293.95 145.22,292.83 146.94,292.69" fill="#cfc300"/>
<polygon points="150.80,288.10 151.46,289.69 153.18,289.83 151.87,290.95 152.27,292.62 150.80,291.73 149.33,292.62 149.73,290.95 148.42,289.83 150.14,289.69" fill="#cfc300"/>
<polygon points="161.20,276.60 161.86,278.19 163.58,278.33 162.27,279.45 162.67,281.12 161.20,280.23 159.73,281.12 160.13,279.45 158.82,278.33 160.54,278.19" fill="#cfc300"/>
<polygon points="169.30,268.60 169.96,270.19 171.68,270.33 170.37,271.45 170.77,273.12 169.30,272.23 167.83,273.12 168.23,271.45 166.92,270.33 168.64,270.19" fill="#cfc300"/>
<polygon points="175.00,262.00 175.66,263.59 177.38,263.73 176.07,264.85 176.47,266.52 175.00,265.62 173.53,266.52 173.93,264.85 172.62,263.73 174.34,263.59" fill="#cfc300"/>
<polygon points="179.50,256.27 180.16,257.86 181.88,258.00 180.57,259.12 180.97,260.80 179.50,259.90 178.03,260.80 178.43,259.12 177.12,258.00 178.84,257.86" fill="#cfc300"/>
<polygon points="184.00,251.29 184.66,252.88 186.38,253.01 185.07,254.13 185.47,255.81 184.00,254.91 182.53,255.81 182.93,254.13 181.62,253.01 183.34,252.88" fill="#cfc300"/>
<polygon points="188.70,245.70 189.36,247.29 191.08,247.43 189.77,248.55 190.17,250.22 188.70,249.32 187.23,250.22 187.63,248.55 186.32,247.43 188.04,247.29" fill="#cfc300"/>
<polygon points="192.60,241.11 193.26,242.70 194.98,242.83 193.67,243.95 194.07,245.63 192.60,244.73 191.13,245.63 191.53,243.95 190.22,242.83 191.94,242.70" fill="#cfc300"/>
<polygon points="196.00,237.10 196.66,238.69 198.38,238.83 197.07,239.95 197.47,241.62 196.00,240.72 194.53,241.62 194.93,239.95 193.62,238.83 195.34,238.69" fill="#cfc300"/>
<polygon points="199.20,234.10 199.86,235.69 201.58,235.83 200.27,236.95 200.67,238.62 199.20,237.72 197.73,238.62 198.13,236.95 196.82,235.83 198.54,235.69" fill="#cfc300"/>
<polygon points="202.00,230.90 202.66,232.49 204.38,232.63 203.07,233.75 203.47,235.42 202.00,234.53 200.53,235.42 200.93,233.75 199.62,232.63 201.34,232.49" fill="#cfc300"/>
<polygon points="204.50,227.30 205.16,228.89 206.88,229.03 205.57,230.15 205.97,231.82 204.50,230.93 203.03,231.82 203.43,230.15 202.12,229.03 203.84,228.89" fill="#cfc300"/>
<polygon points="206.60,224.20 207.26,225.79 208.98,225.93 207.67,227.05 208.07,228.72 206.60,227.82 205.13,228.72 205.53,227.05 204.22,225.93 205.94,225.79" fill="#cfc300"/>
<polygon points="208.70,221.00 209.36,222.59 211.08,222.73 209.77,223.85 210.17,225.52 208.70,224.62 207.23,225.52 207.63,223.85 206.32,222.73 208.04,222.59" fill="#cfc300"/>
<polygon points="210.80,217.70 211.46,219.29 213.18,219.43 211.87,220.55 212.27,222.22 210.80,221.32 209.33,222.22 209.73,220.55 208.42,219.43 210.14,219.29" fill="#cfc300"/>
<polygon points="212.90,214.10 213.56,215.69 215.28,215.83 213.97,216.95 214.37,218.62 212.90,217.72 211.43,218.62 211.83,216.95 210.52,215.83 212.24,215.69" fill="#cfc300"/>
<polygon points="215.00,210.90 215.66,212.49 217.38,212.63 216.07,213.75 216.47,215.42 215.00,214.53 213.53,215.42 213.93,213.75 212.62,212.63 214.34,212.49" fill="#cfc300"/>
<path d="M73.30,347.43L77.50,347.43L75.40,343.77Z" fill="#ff0000"/>
<path d="M92.10,340.03L96.30,340.03L94.20,336.37Z" fill="#ff0000"/>
<path d="M104.10,333.23L108.30,333.23L106.20,329.57Z" fill="#ff0000"/>
<path d="M113.30,327.73L117.50,327.73L115.40,324.07Z" fill="#ff0000"/>
<path d="M120.70,322.63L124.90,322.63L122.80,318.97Z" fill="#ff0000"/>
<path d="M127.20,318.13L131.40,318.13L129.30,314.47Z" fill="#ff0000"/>
<path d="M132.50,313.93L136.70,313.93L134.60,310.27Z" fill="#ff0000"/>
<path d="M137.10,310.83L141.30,310.83L139.20,307.17Z" fill="#ff0000"/>
<path d="M140.90,307.23L145.10,307.23L143.00,303.57Z" fill="#ff0000"/>
<path d="M144.50,304.03L148.70,304.03L146.60,300.37Z" fill="#ff0000"/>
<path d="M148.10,301.33L152.30,301.33L150.20,297.67Z" fill="#ff0000"/>
<path d="M158.50,292.43L162.70,292.43L160.60,288.77Z" fill="#ff0000"/>
<path d="M167.20,284.93L171.40,284.93L169.30,281.27Z" fill="#ff0000"/>
<path d="M172.90,279.43L177.10,279.43L175.00,275.77Z" fill="#ff0000"/>
<path d="M177.40,274.97L181.60,274.97L179.50,271.32Z" fill="#ff0000"/>
<path d="M181.90,271.15L186.10,271.15L184.00,267.50Z" fill="#ff0000"/>
<path d="M186.60,267.43L190.80,267.43L188.70,263.77Z" fill="#ff0000"/>
<path d="M190.50,263.53L194.70,263.53L192.60,259.87Z" fill="#ff0000"/>
<path d="M193.90,260.72L198.10,260.72L196.00,257.06Z" fill="#ff0000"/>
<path d="M197.10,258.19L201.30,258.19L199.20,254.53Z" fill="#ff0000"/>
<path d="M199.90,255.96L204.10,255.96L202.00,252.30Z" fill="#ff0000"/>
<path d="M202.40,253.90L206.60,253.90L204.50,250.24Z" fill="#ff0000"/>
<path d="M204.50,252.13L208.70,252.13L206.60,248.47Z" fill="#ff0000"/>
<path d="M206.60,250.03L210.80,250.03L208.70,246.37Z" fill="#ff0000"/>
<path d="M208.70,248.26L212.90,248.26L210.80,244.61Z" fill="#ff0000"/>
<path d="M210.80,245.82L215.00,245.82L212.90,242.17Z" fill="#ff0000"/>
<path d="M212.90,243.47L217.10,243.47L215.00,239.81Z" fill="#ff0000"/>
<text x="67.60" y="320.70" font-size="10" text-anchor="middle" fill="#2b8ef5" textLength="19.7" lengthAdjust="spacingAndGlyphs">C<tspan font-size="6.8" dy="1.8">2</tspan><tspan dy="-1.8">H</tspan><tspan font-size="6.8" dy="1.8">6</tspan></text>
<text x="137.60" y="330.10" font-size="10" text-anchor="middle" fill="#ff0000" textLength="20" lengthAdjust="spacingAndGlyphs">C<tspan font-size="6.8" dy="1.8">2</tspan><tspan dy="-1.8">H</tspan><tspan font-size="6.8" dy="1.8">4</tspan></text>
<text x="181.00" y="234.90" font-size="10" text-anchor="middle" fill="#cfc300" textLength="20.5" lengthAdjust="spacingAndGlyphs">C<tspan font-size="6.8" dy="1.8">2</tspan><tspan dy="-1.8">H</tspan><tspan font-size="6.8" dy="1.8">2</tspan></text>
<rect x="28.40" y="199.80" width="187.60" height="153.80" fill="none" stroke="#000" stroke-width="1.7"/>
<rect x="257" y="273.48" width="25.10" height="79.42" fill="url(#gb)"/>
<rect x="282.1" y="293.76" width="24.70" height="59.14" fill="url(#gy)"/>
<rect x="319" y="276.34" width="25.00" height="76.56" fill="url(#gb)"/>
<rect x="344" y="274.80" width="24.80" height="78.10" fill="url(#gy)"/>
<rect x="381" y="306.16" width="25.00" height="46.74" fill="url(#gb)"/>
<rect x="406" y="207.00" width="25.10" height="145.90" fill="url(#gy)"/>
<line x1="254" y1="290.9" x2="437" y2="290.9" stroke="#cc1010" stroke-width="1.8" stroke-dasharray="4.9,1.6"/>
<line x1="247.60" y1="353.40" x2="251.60" y2="353.40" stroke="#000" stroke-width="1.1" />
<line x1="249.60" y1="334.59" x2="251.60" y2="334.59" stroke="#000" stroke-width="1.1" />
<line x1="249.60" y1="323.58" x2="251.60" y2="323.58" stroke="#000" stroke-width="1.1" />
<line x1="249.60" y1="315.77" x2="251.60" y2="315.77" stroke="#000" stroke-width="1.1" />
<line x1="249.60" y1="309.71" x2="251.60" y2="309.71" stroke="#000" stroke-width="1.1" />
<line x1="249.60" y1="304.77" x2="251.60" y2="304.77" stroke="#000" stroke-width="1.1" />
<line x1="249.60" y1="300.58" x2="251.60" y2="300.58" stroke="#000" stroke-width="1.1" />
<line x1="249.60" y1="296.96" x2="251.60" y2="296.96" stroke="#000" stroke-width="1.1" />
<line x1="249.60" y1="293.76" x2="251.60" y2="293.76" stroke="#000" stroke-width="1.1" />
<line x1="247.60" y1="290.90" x2="251.60" y2="290.90" stroke="#000" stroke-width="1.1" />
<line x1="249.60" y1="272.09" x2="251.60" y2="272.09" stroke="#000" stroke-width="1.1" />
<line x1="249.60" y1="261.08" x2="251.60" y2="261.08" stroke="#000" stroke-width="1.1" />
<line x1="249.60" y1="253.27" x2="251.60" y2="253.27" stroke="#000" stroke-width="1.1" />
<line x1="249.60" y1="247.21" x2="251.60" y2="247.21" stroke="#000" stroke-width="1.1" />
<line x1="249.60" y1="242.27" x2="251.60" y2="242.27" stroke="#000" stroke-width="1.1" />
<line x1="249.60" y1="238.08" x2="251.60" y2="238.08" stroke="#000" stroke-width="1.1" />
<line x1="249.60" y1="234.46" x2="251.60" y2="234.46" stroke="#000" stroke-width="1.1" />
<line x1="249.60" y1="231.26" x2="251.60" y2="231.26" stroke="#000" stroke-width="1.1" />
<line x1="247.60" y1="228.40" x2="251.60" y2="228.40" stroke="#000" stroke-width="1.1" />
<line x1="249.60" y1="209.59" x2="251.60" y2="209.59" stroke="#000" stroke-width="1.1" />
<text x="246.40" y="231.37" font-size="9" text-anchor="end" fill="#000"  style="">10</text>
<text x="246.40" y="293.87" font-size="9" text-anchor="end" fill="#000"  style="">1</text>
<text x="246.40" y="356.77" font-size="9" text-anchor="end" fill="#000"  style="">0.1</text>
<text transform="translate(239.47,275.00) rotate(-90)" x="0" y="0" font-size="8.7" text-anchor="middle" fill="#000" >IAST selectivity</text>
<rect x="256.8" y="209.1" width="17.2" height="8.9" fill="url(#gb)"/>
<rect x="256.8" y="221.1" width="17.2" height="8.9" fill="url(#gy)"/>
<text x="276.90" y="216.51" font-size="8.2" text-anchor="start" fill="#000" textLength="40.6" lengthAdjust="spacingAndGlyphs">C<tspan font-size="6" dy="1.5">2</tspan><tspan dy="-1.5">H</tspan><tspan font-size="6" dy="1.5">6</tspan><tspan dy="-1.5">/</tspan>C<tspan font-size="6" dy="1.5">2</tspan><tspan dy="-1.5">H</tspan><tspan font-size="6" dy="1.5">4</tspan></text>
<text x="276.90" y="228.51" font-size="8.2" text-anchor="start" fill="#000" textLength="40.6" lengthAdjust="spacingAndGlyphs">C<tspan font-size="6" dy="1.5">2</tspan><tspan dy="-1.5">H</tspan><tspan font-size="6" dy="1.5">2</tspan><tspan dy="-1.5">/</tspan>C<tspan font-size="6" dy="1.5">2</tspan><tspan dy="-1.5">H</tspan><tspan font-size="6" dy="1.5">4</tspan></text>
<text x="269.70" y="271.26" font-size="10.8" text-anchor="middle" fill="#000"  style="">&gt;1</text>
<text x="294.20" y="304.06" font-size="10.8" text-anchor="middle" fill="#000"  style="">&lt;1</text>
<text x="330.50" y="269.86" font-size="10.8" text-anchor="middle" fill="#cc1111"  style="">&gt;1</text>
<text x="358.20" y="269.86" font-size="10.8" text-anchor="middle" fill="#cc1111"  style="">&gt;1</text>
<text x="392.40" y="303.26" font-size="10.8" text-anchor="middle" fill="#000"  style="">&lt;1</text>
<text x="418.10" y="218.96" font-size="10.8" text-anchor="middle" fill="#000"  style="">&gt;1</text>
<text x="278.80" y="364.84" font-size="7.7" text-anchor="middle" fill="#000"  style="">Zn-datz-ipa</text>
<text x="347.00" y="364.84" font-size="7.7" text-anchor="middle" fill="#000"  style="">Zn-datz-ipa@</text>
<text x="347.50" y="373.54" font-size="7.7" text-anchor="middle" fill="#000"  style="">SiO<tspan font-size="5.5" dy="1.5">2</tspan><tspan dy="-1.5">@TIFSIX-2-Cu-i</tspan></text>
<text x="409.80" y="364.84" font-size="7.7" text-anchor="middle" fill="#000"  style="">TIFSIX-2-Cu-i</text>
<rect x="251.60" y="203.90" width="186.40" height="149.00" fill="none" stroke="#000" stroke-width="1.7"/>
<line x1="489.50" y1="346.30" x2="493.50" y2="346.30" stroke="#000" stroke-width="1.2" />
<text x="488.70" y="349.27" font-size="9" text-anchor="end" fill="#000"  style="">0</text>
<line x1="491.50" y1="332.91" x2="493.50" y2="332.91" stroke="#000" stroke-width="1.2" />
<line x1="489.50" y1="319.52" x2="493.50" y2="319.52" stroke="#000" stroke-width="1.2" />
<text x="488.70" y="322.49" font-size="9" text-anchor="end" fill="#000"  style="">10</text>
<line x1="491.50" y1="306.13" x2="493.50" y2="306.13" stroke="#000" stroke-width="1.2" />
<line x1="489.50" y1="292.74" x2="493.50" y2="292.74" stroke="#000" stroke-width="1.2" />
<text x="488.70" y="295.71" font-size="9" text-anchor="end" fill="#000"  style="">20</text>
<line x1="491.50" y1="279.35" x2="493.50" y2="279.35" stroke="#000" stroke-width="1.2" />
<line x1="489.50" y1="265.96" x2="493.50" y2="265.96" stroke="#000" stroke-width="1.2" />
<text x="488.70" y="268.93" font-size="9" text-anchor="end" fill="#000"  style="">30</text>
<line x1="491.50" y1="252.57" x2="493.50" y2="252.57" stroke="#000" stroke-width="1.2" />
<line x1="489.50" y1="239.18" x2="493.50" y2="239.18" stroke="#000" stroke-width="1.2" />
<text x="488.70" y="242.15" font-size="9" text-anchor="end" fill="#000"  style="">40</text>
<line x1="491.50" y1="225.79" x2="493.50" y2="225.79" stroke="#000" stroke-width="1.2" />
<line x1="489.50" y1="212.40" x2="493.50" y2="212.40" stroke="#000" stroke-width="1.2" />
<text x="488.70" y="215.37" font-size="9" text-anchor="end" fill="#000"  style="">50</text>
<line x1="491.50" y1="199.01" x2="493.50" y2="199.01" stroke="#000" stroke-width="1.2" />
<line x1="495.00" y1="346.50" x2="495.00" y2="349.50" stroke="#000" stroke-width="1.2" />
<text x="495.00" y="358.97" font-size="9" text-anchor="middle" fill="#000"  style="">0.0</text>
<line x1="516.70" y1="346.50" x2="516.70" y2="348.10" stroke="#000" stroke-width="1.2" />
<line x1="538.40" y1="346.50" x2="538.40" y2="349.50" stroke="#000" stroke-width="1.2" />
<text x="538.40" y="358.97" font-size="9" text-anchor="middle" fill="#000"  style="">0.5</text>
<line x1="560.10" y1="346.50" x2="560.10" y2="348.10" stroke="#000" stroke-width="1.2" />
<line x1="581.80" y1="346.50" x2="581.80" y2="349.50" stroke="#000" stroke-width="1.2" />
<text x="581.80" y="358.97" font-size="9" text-anchor="middle" fill="#000"  style="">1.0</text>
<line x1="603.50" y1="346.50" x2="603.50" y2="348.10" stroke="#000" stroke-width="1.2" />
<line x1="625.20" y1="346.50" x2="625.20" y2="349.50" stroke="#000" stroke-width="1.2" />
<text x="625.20" y="358.97" font-size="9" text-anchor="middle" fill="#000"  style="">1.5</text>
<line x1="646.90" y1="346.50" x2="646.90" y2="348.10" stroke="#000" stroke-width="1.2" />
<line x1="668.60" y1="346.50" x2="668.60" y2="349.50" stroke="#000" stroke-width="1.2" />
<text x="668.60" y="358.97" font-size="9" text-anchor="middle" fill="#000"  style="">2.0</text>
<text transform="translate(471.07,271.80) rotate(-90)" x="0" y="0" font-size="9.3" text-anchor="middle" fill="#000" >Q (mg/g)</text>
<text x="528.3" y="375" font-size="10.6" textLength="96.5" lengthAdjust="spacingAndGlyphs">Square Root Time (min</text>
<text x="625" y="371.8" font-size="9.6" textLength="12" lengthAdjust="spacingAndGlyphs" style="font-family:'Liberation Sans',sans-serif;font-weight:bold">1/2</text>
<text x="637" y="375.6" font-size="7.5">)</text>
<path d="M495.0,346.3 L519.3,265.0 L523.4,255.5 L530.8,250.3 L536.0,247.1 L542.4,243.4 L550.5,238.4 L561.0,234.2 L571.6,231.6 L582.1,230.0 L595.0,228.8 L619.8,227.3 L644.6,226.3 L678.1,225.5" fill="none" stroke="#ddd778" stroke-width="3.2" stroke-linejoin="round"/>
<path d="M495.0,346.3 L519.3,265.0 L523.4,255.5 L530.8,250.3 L536.0,247.1 L542.4,243.4 L550.5,238.4 L561.0,234.2 L571.6,231.6 L582.1,230.0 L595.0,228.8 L619.8,227.3 L644.6,226.3 L678.1,225.5" fill="none" stroke="#f3f0c8" stroke-width="1.22" stroke-linejoin="round"/>
<path d="M495.0,346.3 L518.5,265.0 L521.5,257.0 L524.5,251.3 L530.8,246.6 L536.0,243.4 L542.4,240.3 L550.5,235.8 L561.0,231.6 L571.6,228.9 L582.1,227.4 L595.0,226.1 L619.8,224.2 L644.6,223.4 L678.1,222.7" fill="none" stroke="#8fbff2" stroke-width="3.2" stroke-linejoin="round"/>
<path d="M495.0,346.3 L518.5,265.0 L521.5,257.0 L524.5,251.3 L530.8,246.6 L536.0,243.4 L542.4,240.3 L550.5,235.8 L561.0,231.6 L571.6,228.9 L582.1,227.4 L595.0,226.1 L619.8,224.2 L644.6,223.4 L678.1,222.7" fill="none" stroke="#d6e8fb" stroke-width="1.22" stroke-linejoin="round"/>
<path d="M495.0,346.3 L516.3,290.5 L521.6,278.7 L525.1,269.2 L528.7,262.1 L534.6,255.0 L542.1,247.4 L550.5,240.5 L561.0,233.2 L571.6,228.4 L582.1,224.7 L595.0,221.7 L619.8,218.9 L644.6,217.7 L678.1,217.0" fill="none" stroke="#ff8080" stroke-width="3.2" stroke-linejoin="round"/>
<path d="M495.0,346.3 L516.3,290.5 L521.6,278.7 L525.1,269.2 L528.7,262.1 L534.6,255.0 L542.1,247.4 L550.5,240.5 L561.0,233.2 L571.6,228.4 L582.1,224.7 L595.0,221.7 L619.8,218.9 L644.6,217.7 L678.1,217.0" fill="none" stroke="#ffd6d6" stroke-width="1.22" stroke-linejoin="round"/>
<line x1="495.00" y1="346.30" x2="537.60" y2="199.00" stroke="#3d95f0" stroke-width="1.5" />
<line x1="495.00" y1="346.30" x2="539.00" y2="199.00" stroke="#cfc300" stroke-width="1.5" />
<line x1="495.00" y1="346.30" x2="547.30" y2="199.00" stroke="#ff0000" stroke-width="1.6" />
<text x="538.2" y="269.2" font-size="8.4" fill="#ff0000" textLength="42.1" lengthAdjust="spacingAndGlyphs">Zn-datz-ipa</text>
<text x="538.2" y="280.4" font-size="8.4" fill="#3d95f0">Zn-datz-ipa@SiO<tspan font-size="5.8" dy="1.8">2</tspan></text>
<text x="538.2" y="291.4" font-size="8.4" fill="#c9bf00">Zn-datz-ipa@SiO<tspan font-size="5.8" dy="1.8">2</tspan><tspan dy="-1.8">@TIFSIX-2-Cu-i</tspan></text>
<rect x="518" y="295.5" width="156" height="47.5" fill="#fff"/>
<line x1="518.70" y1="297.40" x2="672.50" y2="297.40" stroke="#444" stroke-width="1.3" />
<line x1="518.70" y1="312.80" x2="672.50" y2="312.80" stroke="#333" stroke-width="1.0" />
<line x1="518.70" y1="341.60" x2="672.50" y2="341.60" stroke="#333" stroke-width="1.3" />
<text x="548.50" y="306.78" font-size="5.7" text-anchor="middle" fill="#000"  style="">Zn-datz-ipa</text>
<text x="587.40" y="303.08" font-size="5.7" text-anchor="middle" fill="#000"  style="">Zn-datz-</text>
<text x="587.40" y="310.28" font-size="5.7" text-anchor="middle" fill="#000"  style="">ipa@SiO<tspan font-size="4" dy="1">2</tspan></text>
<text x="641.50" y="303.08" font-size="5.7" text-anchor="middle" fill="#000"  style="">Zn-datz-ipa@SiO<tspan font-size="4" dy="1">2</tspan></text>
<text x="641.50" y="310.28" font-size="5.7" text-anchor="middle" fill="#000"  style="">@TIFSIX-2-Cu-i</text>
<text x="524.40" y="320.18" font-size="6.6" text-anchor="middle" fill="#000"  style="">K</text>
<text x="548.50" y="320.18" font-size="6.6" text-anchor="middle" fill="#000"  style="">89.0255</text>
<text x="588.90" y="320.18" font-size="6.6" text-anchor="middle" fill="#000"  style="">109.4152</text>
<text x="641.50" y="320.18" font-size="6.6" text-anchor="middle" fill="#000"  style="">105.4355</text>
<text x="524.40" y="334.88" font-size="6.6" text-anchor="middle" fill="#000"  style="">R<tspan font-size="4.5" dy="-2.3">2</tspan></text>
<text x="548.50" y="334.88" font-size="6.6" text-anchor="middle" fill="#000"  style="">0.9983</text>
<text x="588.90" y="334.88" font-size="6.6" text-anchor="middle" fill="#000"  style="">0.9957</text>
<text x="641.50" y="334.88" font-size="6.6" text-anchor="middle" fill="#000"  style="">0.9968</text>
<rect x="493.50" y="198.80" width="185.30" height="147.70" fill="none" stroke="#000" stroke-width="1.7"/>
</svg></body></html>
